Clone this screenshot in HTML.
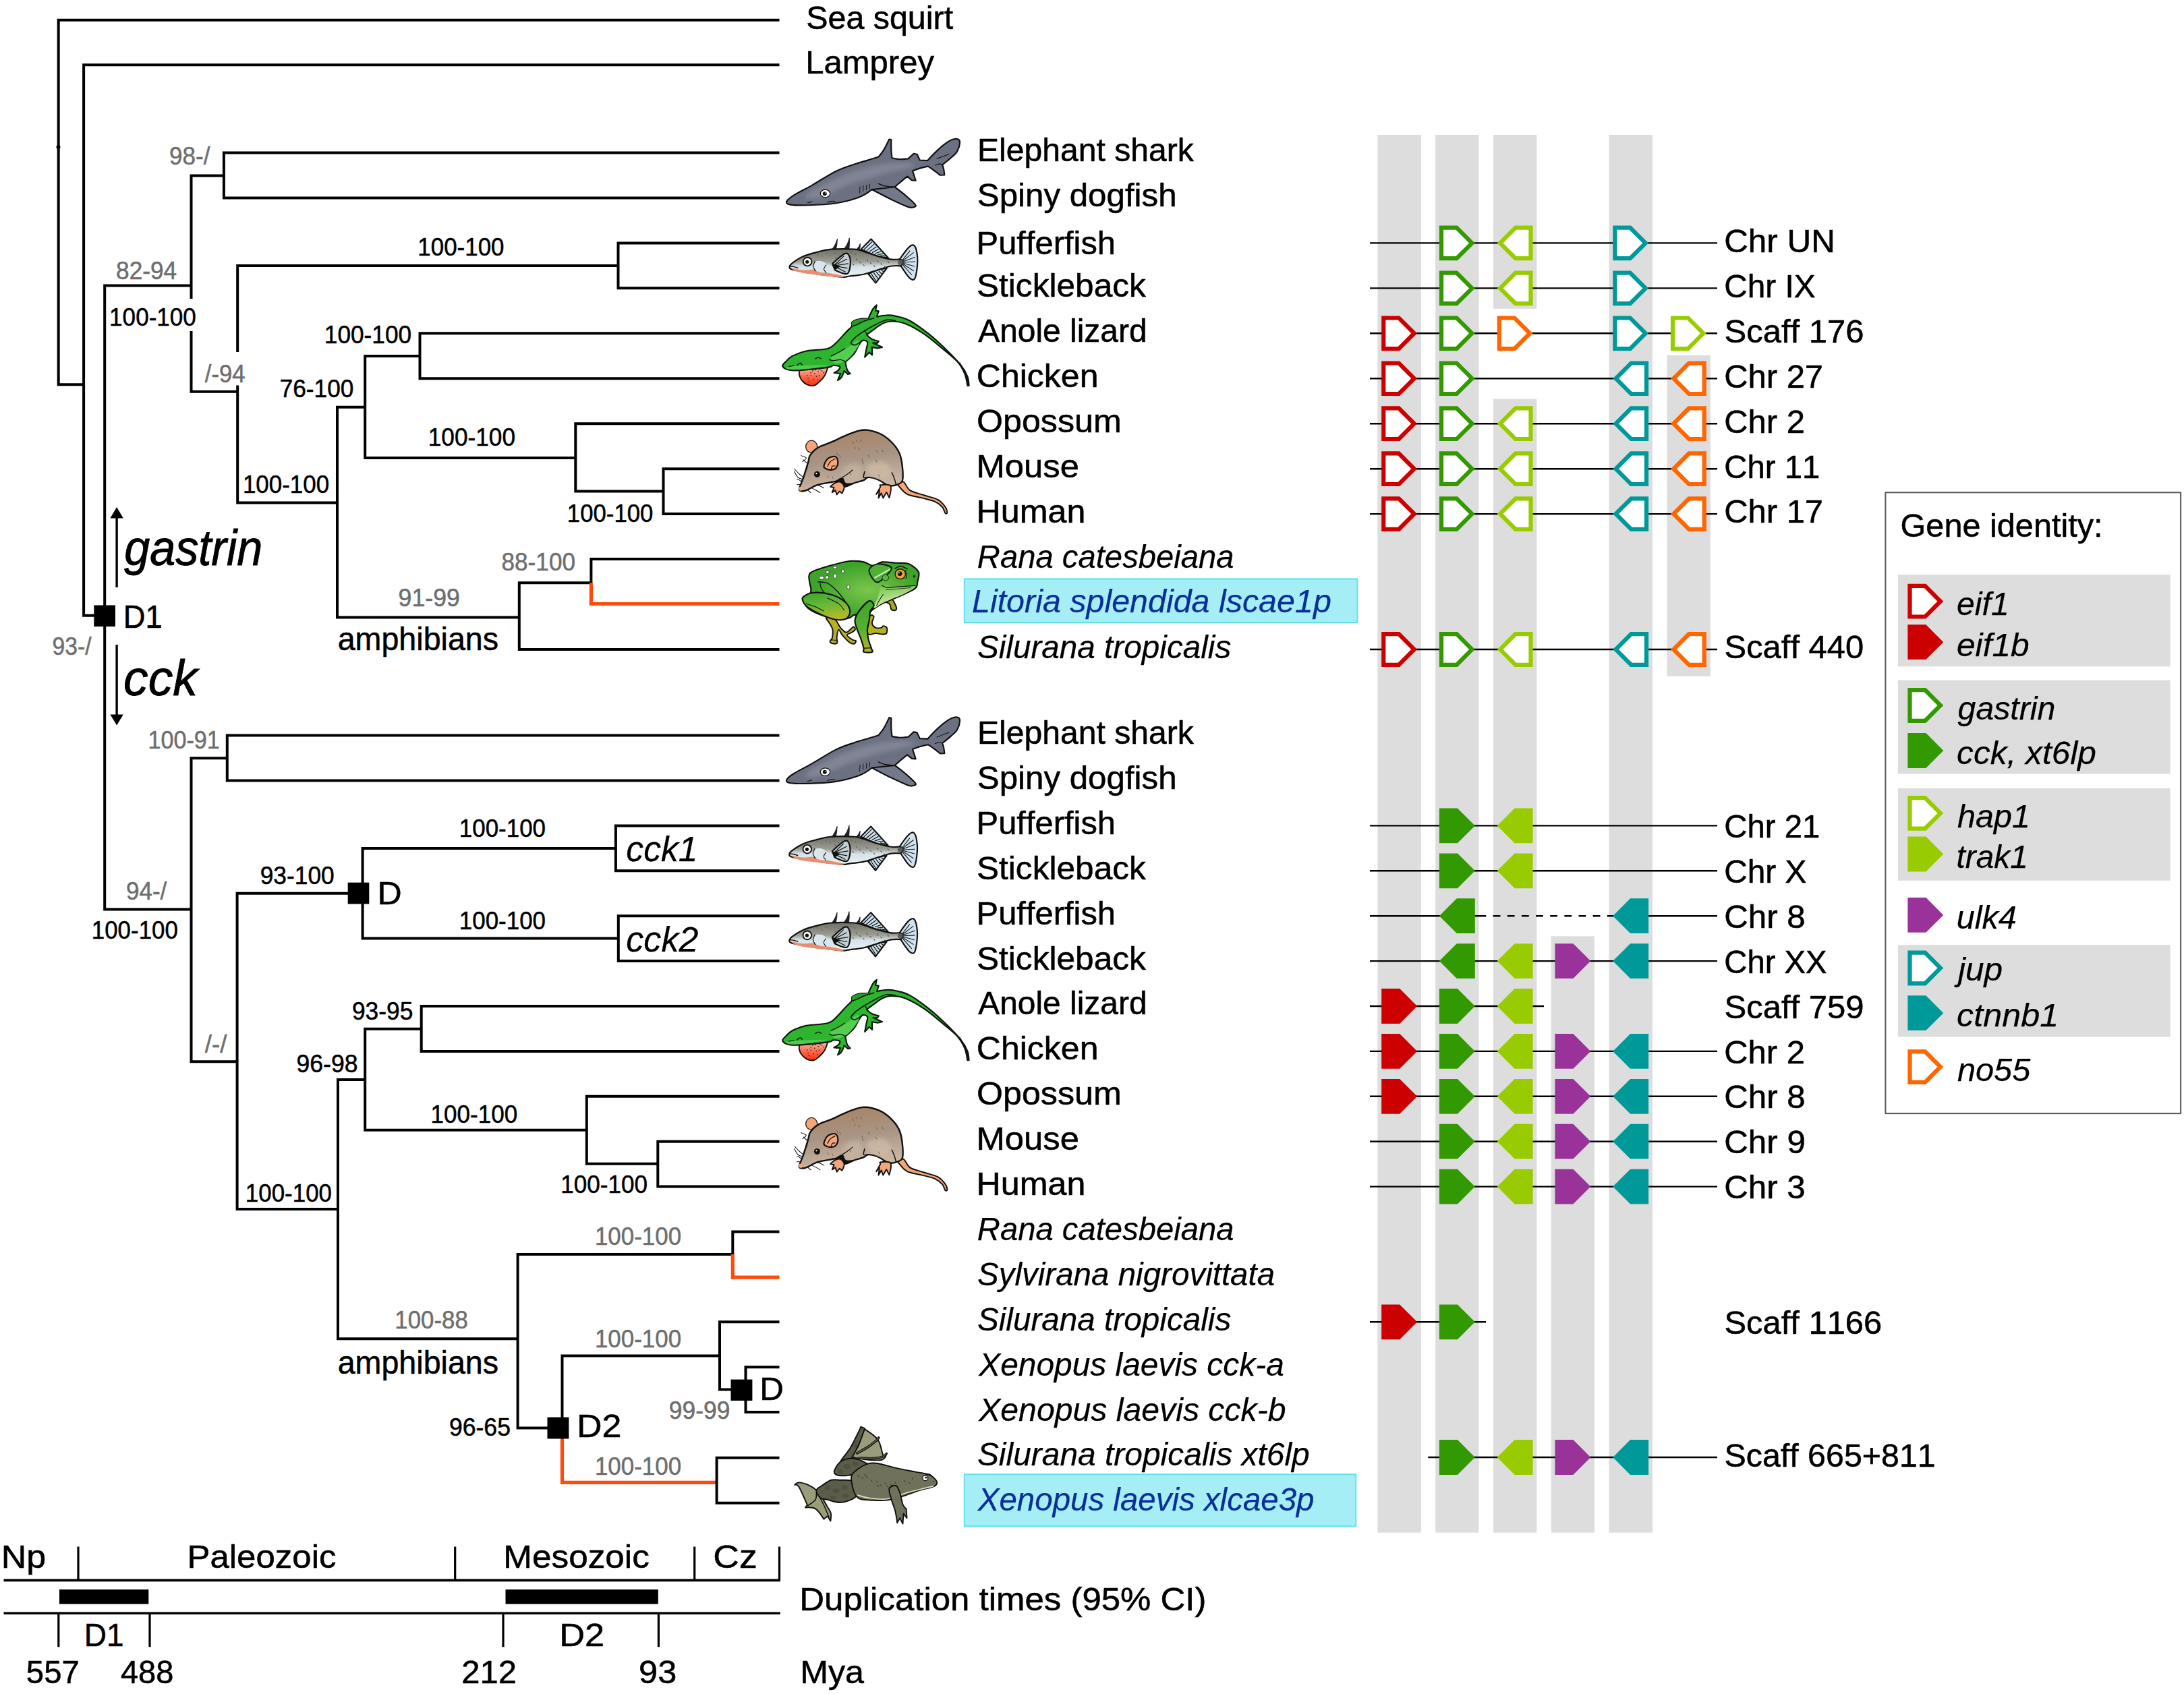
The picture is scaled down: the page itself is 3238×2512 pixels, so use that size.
<!DOCTYPE html>
<html><head><meta charset="utf-8"><title>gastrin / cck phylogeny and synteny</title>
<style>
html,body{margin:0;padding:0;background:#fff}
svg{display:block}
text{font-family:"Liberation Sans",sans-serif;font-kerning:none;white-space:pre;stroke-width:.55px}
.i{stroke-width:.25px}
.ib{stroke-width:.9px}
.t{stroke:#000;stroke-width:4;fill:none;stroke-linecap:butt;stroke-linejoin:miter}
.o{stroke:#ff4a0c;stroke-width:5.2;fill:none;stroke-linejoin:miter}
.g{stroke:#000;stroke-width:2.4;fill:none}
</style></head><body>
<svg width="3238" height="2512" viewBox="0 0 3238 2512">
<rect width="3238" height="2512" fill="#fff"/>
<g id="tree">
<path class="t" d="M1155.5,29.7 H86.7 V570.3 H124.1"/>
<path class="t" d="M1155.5,96.3 H124.1 V912.8 H140"/>
<path class="t" d="M283.5,423.6 H155.2 V1348.4 H283.5"/>
<path class="t" d="M331.9,260.4 H283.5 V580.8 H352.2"/>
<path class="t" d="M1155.5,226.5 H331.9 V293.45 H1155.5"/>
<path class="t" d="M916.5,394 H352.2 V745.6 H500"/>
<path class="t" d="M1155.5,360.4 H916.5 V427.35 H1155.5"/>
<path class="t" d="M541.2,603.8 H500 V915.4 H769.8"/>
<path class="t" d="M622.5,528 H541.2 V679 H853.3"/>
<path class="t" d="M1155.5,494.3 H622.5 V561.25 H1155.5"/>
<path class="t" d="M1155.5,628.2 H853.3 V728.6 H983.5"/>
<path class="t" d="M1155.5,695.15 H983.5 V762.1 H1155.5"/>
<path class="t" d="M876.4,864.3 H769.8 V962.95 H1155.5"/>
<path class="t" d="M1155.5,829.05 H876.4 V866"/>
<path class="o" d="M876.4,864.3 V895.5 H1155.5"/>
<path class="t" d="M336.8,1124.2 H283.5 V1574.2 H351.6"/>
<path class="t" d="M1155.5,1090.6 H336.8 V1157.5 H1155.5"/>
<path class="t" d="M516,1324.7 H351.6 V1792.9 H501"/>
<path class="t" d="M912.9,1257.9 H537.6 V1391.4 H916.8"/>
<path class="t" d="M1155.5,1224.4 H912.9 V1291.3 H1155.5"/>
<path class="t" d="M1155.5,1358.2 H916.8 V1425.1 H1155.5"/>
<path class="t" d="M541.2,1601 H501 V1985.2 H767.6"/>
<path class="t" d="M624.7,1525.8 H541.2 V1675.8 H869.8"/>
<path class="t" d="M1155.5,1492 H624.7 V1558.9 H1155.5"/>
<path class="t" d="M1155.5,1625.8 H869.8 V1725.8 H975.3"/>
<path class="t" d="M1155.5,1692.7 H975.3 V1759.6 H1155.5"/>
<path class="t" d="M1086.3,1859.9 H767.6 V2117.5 H812"/>
<path class="t" d="M1155.5,1826.5 H1086.3 V1861.5"/>
<path class="o" d="M1086.3,1859.9 V1894.2 H1155.5"/>
<path class="t" d="M1067,2010.4 H833.5 V2102"/>
<path class="o" d="M833.5,2133 V2198.4 H1062.6"/>
<path class="t" d="M1155.5,1960.3 H1067 V2060.4 H1084"/>
<path class="t" d="M1155.5,2027.2 H1105.5 V2094.1 H1155.5"/>
<path class="t" d="M1155.5,2161.8 H1062.6 V2228.7 H1155.5"/>
<rect x="139.3" y="897.5" width="31.7" height="31.6"/>
<rect x="515.7" y="1308.7" width="31.6" height="31.8"/>
<rect x="811.5" y="2101.6" width="31.9" height="31.9"/>
<rect x="1083.5" y="2045.6" width="31.9" height="31.4"/>
<circle cx="86.5" cy="218" r="3"/>
<rect x="278" y="443" width="14" height="48" fill="#fff"/>
<rect x="346" y="522" width="14" height="49.5" fill="#fff"/>
<path d="M173.1,871 V766" stroke="#000" stroke-width="3.4" fill="none"/>
<path d="M173.1,751.9 L182.8,768.5 H163.4 Z"/>
<path d="M173.1,956 V1062" stroke="#000" stroke-width="3.4" fill="none"/>
<path d="M173.1,1075.6 L182.8,1059.5 H163.4 Z"/>
</g>
<g id="boot">
<text x="251.1" y="243.7" font-size="37.5" fill="#6e6e6e" stroke="#6e6e6e" textLength="60.4" lengthAdjust="spacingAndGlyphs">98-/</text>
<text x="172.1" y="414.0" font-size="37.5" fill="#6e6e6e" stroke="#6e6e6e" textLength="90.0" lengthAdjust="spacingAndGlyphs">82-94</text>
<text x="162.1" y="482.7" font-size="37.5" stroke="#000" textLength="128.8" lengthAdjust="spacingAndGlyphs">100-100</text>
<text x="619.3" y="378.8" font-size="37.5" stroke="#000" textLength="128.2" lengthAdjust="spacingAndGlyphs">100-100</text>
<text x="303.8" y="566.8" font-size="37.5" fill="#6e6e6e" stroke="#6e6e6e" textLength="59.8" lengthAdjust="spacingAndGlyphs">/-94</text>
<text x="480.8" y="508.5" font-size="37.5" stroke="#000" textLength="129.4" lengthAdjust="spacingAndGlyphs">100-100</text>
<text x="414.7" y="588.8" font-size="37.5" stroke="#000" textLength="109.7" lengthAdjust="spacingAndGlyphs">76-100</text>
<text x="634.7" y="661.2" font-size="37.5" stroke="#000" textLength="129.3" lengthAdjust="spacingAndGlyphs">100-100</text>
<text x="359.9" y="730.5" font-size="37.5" stroke="#000" textLength="128.2" lengthAdjust="spacingAndGlyphs">100-100</text>
<text x="840.8" y="774.4" font-size="37.5" stroke="#000" textLength="127.6" lengthAdjust="spacingAndGlyphs">100-100</text>
<text x="743.5" y="846.4" font-size="37.5" fill="#6e6e6e" stroke="#6e6e6e" textLength="109.5" lengthAdjust="spacingAndGlyphs">88-100</text>
<text x="590.6" y="898.6" font-size="37.5" fill="#6e6e6e" stroke="#6e6e6e" textLength="91.3" lengthAdjust="spacingAndGlyphs">91-99</text>
<text x="77.5" y="971.0" font-size="37.5" fill="#6e6e6e" stroke="#6e6e6e" textLength="58.0" lengthAdjust="spacingAndGlyphs">93-/</text>
<text x="219.4" y="1110.1" font-size="37.5" fill="#6e6e6e" stroke="#6e6e6e" textLength="106.5" lengthAdjust="spacingAndGlyphs">100-91</text>
<text x="186.9" y="1333.8" font-size="37.5" fill="#6e6e6e" stroke="#6e6e6e" textLength="60.4" lengthAdjust="spacingAndGlyphs">94-/</text>
<text x="135.8" y="1392.0" font-size="37.5" stroke="#000" textLength="128.1" lengthAdjust="spacingAndGlyphs">100-100</text>
<text x="385.7" y="1310.7" font-size="37.5" stroke="#000" textLength="110.1" lengthAdjust="spacingAndGlyphs">93-100</text>
<text x="680.8" y="1241.1" font-size="37.5" stroke="#000" textLength="128.2" lengthAdjust="spacingAndGlyphs">100-100</text>
<text x="680.8" y="1378.3" font-size="37.5" stroke="#000" textLength="128.2" lengthAdjust="spacingAndGlyphs">100-100</text>
<text x="303.8" y="1561.2" font-size="37.5" fill="#6e6e6e" stroke="#6e6e6e" textLength="32.5" lengthAdjust="spacingAndGlyphs">/-/</text>
<text x="521.9" y="1512.3" font-size="37.5" stroke="#000" textLength="90.5" lengthAdjust="spacingAndGlyphs">93-95</text>
<text x="439.5" y="1589.8" font-size="37.5" stroke="#000" textLength="91.0" lengthAdjust="spacingAndGlyphs">96-98</text>
<text x="638.5" y="1664.5" font-size="37.5" stroke="#000" textLength="128.8" lengthAdjust="spacingAndGlyphs">100-100</text>
<text x="363.8" y="1781.6" font-size="37.5" stroke="#000" textLength="128.2" lengthAdjust="spacingAndGlyphs">100-100</text>
<text x="831.3" y="1768.8" font-size="37.5" stroke="#000" textLength="128.8" lengthAdjust="spacingAndGlyphs">100-100</text>
<text x="881.9" y="1845.8" font-size="37.5" fill="#6e6e6e" stroke="#6e6e6e" textLength="128.2" lengthAdjust="spacingAndGlyphs">100-100</text>
<text x="585.3" y="1969.5" font-size="37.5" fill="#6e6e6e" stroke="#6e6e6e" textLength="108.5" lengthAdjust="spacingAndGlyphs">100-88</text>
<text x="881.9" y="1998.1" font-size="37.5" fill="#6e6e6e" stroke="#6e6e6e" textLength="128.2" lengthAdjust="spacingAndGlyphs">100-100</text>
<text x="665.9" y="2128.8" font-size="37.5" stroke="#000" textLength="91.1" lengthAdjust="spacingAndGlyphs">96-65</text>
<text x="991.7" y="2104.1" font-size="37.5" fill="#6e6e6e" stroke="#6e6e6e" textLength="90.7" lengthAdjust="spacingAndGlyphs">99-99</text>
<text x="881.9" y="2186.5" font-size="37.5" fill="#6e6e6e" stroke="#6e6e6e" textLength="128.2" lengthAdjust="spacingAndGlyphs">100-100</text>
</g>
<g id="treelabels">
<text x="500.7" y="963.7" font-size="49" stroke="#000" textLength="238.4" lengthAdjust="spacingAndGlyphs">amphibians</text>
<text x="500.7" y="2037.4" font-size="49" stroke="#000" textLength="238.4" lengthAdjust="spacingAndGlyphs">amphibians</text>
<text x="182.8" y="930.9" font-size="49" stroke="#000" textLength="57.9" lengthAdjust="spacingAndGlyphs">D1</text>
<text x="559.6" y="1340.5" font-size="49" stroke="#000" textLength="36.2" lengthAdjust="spacingAndGlyphs">D</text>
<text x="855.0" y="2130.8" font-size="49" stroke="#000" textLength="66.4" lengthAdjust="spacingAndGlyphs">D2</text>
<text x="1126.2" y="2076.0" font-size="49" stroke="#000" textLength="35.7" lengthAdjust="spacingAndGlyphs">D</text>
<text x="184.2" y="838.4" font-size="74" font-style="italic" stroke="#000" class="ib" textLength="205.1" lengthAdjust="spacingAndGlyphs">gastrin</text>
<text x="183.0" y="1031.4" font-size="74" font-style="italic" stroke="#000" class="ib" textLength="109.9" lengthAdjust="spacingAndGlyphs">cck</text>
<text x="928.3" y="1277.4" font-size="51" font-style="italic" stroke="#000" class="i" textLength="106.3" lengthAdjust="spacingAndGlyphs">cck1</text>
<text x="928.3" y="1410.9" font-size="51" font-style="italic" stroke="#000" class="i" textLength="107.1" lengthAdjust="spacingAndGlyphs">cck2</text>
</g>
<g id="species">
<text x="1195.2" y="42.5" font-size="49" stroke="#000" textLength="217.9" lengthAdjust="spacingAndGlyphs">Sea squirt</text>
<text x="1194.3" y="109.3" font-size="49" stroke="#000" textLength="190.6" lengthAdjust="spacingAndGlyphs">Lamprey</text>
<text x="1449.0" y="239.0" font-size="49" stroke="#000" textLength="320.7" lengthAdjust="spacingAndGlyphs">Elephant shark</text>
<text x="1448.8" y="305.9" font-size="49" stroke="#000" textLength="295.8" lengthAdjust="spacingAndGlyphs">Spiny dogfish</text>
<text x="1447.6" y="376.9" font-size="49" stroke="#000" textLength="206.4" lengthAdjust="spacingAndGlyphs">Pufferfish</text>
<text x="1448.0" y="439.9" font-size="49" stroke="#000" textLength="250.8" lengthAdjust="spacingAndGlyphs">Stickleback</text>
<text x="1450.2" y="506.8" font-size="49" stroke="#000" textLength="250.4" lengthAdjust="spacingAndGlyphs">Anole lizard</text>
<text x="1447.8" y="573.8" font-size="49" stroke="#000" textLength="180.7" lengthAdjust="spacingAndGlyphs">Chicken</text>
<text x="1447.9" y="640.7" font-size="49" stroke="#000" textLength="214.9" lengthAdjust="spacingAndGlyphs">Opossum</text>
<text x="1447.4" y="707.7" font-size="49" stroke="#000" textLength="152.5" lengthAdjust="spacingAndGlyphs">Mouse</text>
<text x="1447.5" y="774.6" font-size="49" stroke="#000" textLength="161.8" lengthAdjust="spacingAndGlyphs">Human</text>
<text x="1448.8" y="841.6" font-size="49" font-style="italic" stroke="#000" class="i" textLength="380.8" lengthAdjust="spacingAndGlyphs">Rana catesbeiana</text>
<text x="1448.9" y="975.5" font-size="49" font-style="italic" stroke="#000" class="i" textLength="376.4" lengthAdjust="spacingAndGlyphs">Silurana tropicalis</text>
<text x="1449.0" y="1103.0" font-size="49" stroke="#000" textLength="320.7" lengthAdjust="spacingAndGlyphs">Elephant shark</text>
<text x="1448.8" y="1169.9" font-size="49" stroke="#000" textLength="295.8" lengthAdjust="spacingAndGlyphs">Spiny dogfish</text>
<text x="1447.6" y="1236.8" font-size="49" stroke="#000" textLength="206.4" lengthAdjust="spacingAndGlyphs">Pufferfish</text>
<text x="1448.0" y="1303.7" font-size="49" stroke="#000" textLength="250.8" lengthAdjust="spacingAndGlyphs">Stickleback</text>
<text x="1447.6" y="1370.6" font-size="49" stroke="#000" textLength="206.4" lengthAdjust="spacingAndGlyphs">Pufferfish</text>
<text x="1448.0" y="1437.5" font-size="49" stroke="#000" textLength="250.8" lengthAdjust="spacingAndGlyphs">Stickleback</text>
<text x="1450.2" y="1504.4" font-size="49" stroke="#000" textLength="250.4" lengthAdjust="spacingAndGlyphs">Anole lizard</text>
<text x="1447.8" y="1571.3" font-size="49" stroke="#000" textLength="180.7" lengthAdjust="spacingAndGlyphs">Chicken</text>
<text x="1447.9" y="1638.2" font-size="49" stroke="#000" textLength="214.9" lengthAdjust="spacingAndGlyphs">Opossum</text>
<text x="1447.4" y="1705.1" font-size="49" stroke="#000" textLength="152.5" lengthAdjust="spacingAndGlyphs">Mouse</text>
<text x="1447.5" y="1772.0" font-size="49" stroke="#000" textLength="161.8" lengthAdjust="spacingAndGlyphs">Human</text>
<text x="1448.8" y="1838.9" font-size="49" font-style="italic" stroke="#000" class="i" textLength="380.8" lengthAdjust="spacingAndGlyphs">Rana catesbeiana</text>
<text x="1449.0" y="1905.8" font-size="49" font-style="italic" stroke="#000" class="i" textLength="441.2" lengthAdjust="spacingAndGlyphs">Sylvirana nigrovittata</text>
<text x="1448.9" y="1972.7" font-size="49" font-style="italic" stroke="#000" class="i" textLength="376.4" lengthAdjust="spacingAndGlyphs">Silurana tropicalis</text>
<text x="1451.2" y="2039.6" font-size="49" font-style="italic" stroke="#000" class="i" textLength="452.6" lengthAdjust="spacingAndGlyphs">Xenopus laevis cck-a</text>
<text x="1451.2" y="2106.5" font-size="49" font-style="italic" stroke="#000" class="i" textLength="455.3" lengthAdjust="spacingAndGlyphs">Xenopus laevis cck-b</text>
<text x="1448.9" y="2173.4" font-size="49" font-style="italic" stroke="#000" class="i" textLength="492.8" lengthAdjust="spacingAndGlyphs">Silurana tropicalis xt6lp</text>
<rect x="1429.8" y="858.4" width="582.7" height="64.6" fill="#a6eef6" stroke="#62e3ec" stroke-width="2"/>
<text x="1441.0" y="908.2" font-size="49" font-style="italic" fill="#0a2f96" stroke="#0a2f96" class="i" textLength="532.8" lengthAdjust="spacingAndGlyphs">Litoria splendida lscae1p</text>
<rect x="1429.8" y="2186.2" width="580.4" height="76.9" fill="#a6eef6" stroke="#62e3ec" stroke-width="2"/>
<text x="1449.8" y="2240.3" font-size="49" font-style="italic" fill="#0a2f96" stroke="#0a2f96" class="i" textLength="498.7" lengthAdjust="spacingAndGlyphs">Xenopus laevis xlcae3p</text>
</g>
<g id="timeline">
<path d="M5.5,2343.4 H1156.8 M5.5,2392.3 H1156.8" stroke="#000" stroke-width="3.6" fill="none"/>
<path d="M116,2293.4 V2343.4 M674.7,2293.4 V2343.4 M1029.7,2293.4 V2343.4 M1155.5,2293.4 V2343.4 M86.8,2392.3 V2442.3 M222,2392.3 V2442.3 M746,2392.3 V2442.3 M976.4,2392.3 V2442.3" stroke="#000" stroke-width="3.2" fill="none"/>
<rect x="88.0" y="2357.0" width="132.3" height="21.6"/>
<rect x="749.5" y="2357.0" width="226.3" height="21.6"/>
<text x="1.7" y="2325.2" font-size="49" stroke="#000" textLength="66.4" lengthAdjust="spacingAndGlyphs">Np</text>
<text x="277.4" y="2325.2" font-size="49" stroke="#000" textLength="221.2" lengthAdjust="spacingAndGlyphs">Paleozoic</text>
<text x="746.3" y="2325.2" font-size="49" stroke="#000" textLength="216.6" lengthAdjust="spacingAndGlyphs">Mesozoic</text>
<text x="1057.3" y="2325.2" font-size="49" stroke="#000" textLength="65.4" lengthAdjust="spacingAndGlyphs">Cz</text>
<text x="124.8" y="2441.0" font-size="49" stroke="#000" textLength="58.7" lengthAdjust="spacingAndGlyphs">D1</text>
<text x="829.2" y="2441.0" font-size="49" stroke="#000" textLength="66.9" lengthAdjust="spacingAndGlyphs">D2</text>
<text x="38.8" y="2496.0" font-size="49" stroke="#000" textLength="79.0" lengthAdjust="spacingAndGlyphs">557</text>
<text x="178.9" y="2496.0" font-size="49" stroke="#000" textLength="78.6" lengthAdjust="spacingAndGlyphs">488</text>
<text x="684.3" y="2496.0" font-size="49" stroke="#000" textLength="81.8" lengthAdjust="spacingAndGlyphs">212</text>
<text x="947.1" y="2496.0" font-size="49" stroke="#000" textLength="56.1" lengthAdjust="spacingAndGlyphs">93</text>
<text x="1185.3" y="2388.0" font-size="49" stroke="#000" textLength="603.2" lengthAdjust="spacingAndGlyphs">Duplication times (95% CI)</text>
<text x="1186.2" y="2496.0" font-size="49" stroke="#000" textLength="94.8" lengthAdjust="spacingAndGlyphs">Mya</text>
</g>
<g id="synteny">
<rect x="2042.4" y="200.0" width="64.4" height="2072.6" fill="#dddddd"/>
<rect x="2128.2" y="200.0" width="64.2" height="2072.6" fill="#dddddd"/>
<rect x="2214.0" y="200.0" width="64.3" height="257.8" fill="#dddddd"/>
<rect x="2214.0" y="591.6" width="64.3" height="1681.0" fill="#dddddd"/>
<rect x="2299.7" y="1388.3" width="64.3" height="884.3" fill="#dddddd"/>
<rect x="2385.5" y="200.0" width="64.5" height="2072.6" fill="#dddddd"/>
<rect x="2471.6" y="527.0" width="64.2" height="476.0" fill="#dddddd"/>
<path class="g" d="M2031.0,360.4 H2546.0"/>
<polygon points="2133.9,334.5 2160.9,334.5 2186.8,360.4 2160.9,386.3 2133.9,386.3" fill="#339900"/>
<polygon points="2140.1,340.7 2158.4,340.7 2178.1,360.4 2158.4,380.1 2140.1,380.1" fill="#fff"/>
<polygon points="2272.6,334.5 2245.6,334.5 2219.7,360.4 2245.6,386.3 2272.6,386.3" fill="#99cc00"/>
<polygon points="2266.4,340.7 2248.2,340.7 2228.5,360.4 2248.2,380.1 2266.4,380.1" fill="#fff"/>
<polygon points="2391.2,334.5 2418.2,334.5 2444.1,360.4 2418.2,386.3 2391.2,386.3" fill="#009999"/>
<polygon points="2397.4,340.7 2415.6,340.7 2435.3,360.4 2415.6,380.1 2397.4,380.1" fill="#fff"/>
<text x="2556.2" y="373.7" font-size="49" stroke="#000" textLength="164.6" lengthAdjust="spacingAndGlyphs">Chr UN</text>
<path class="g" d="M2031.0,427.4 H2546.0"/>
<polygon points="2133.9,401.5 2160.9,401.5 2186.8,427.4 2160.9,453.2 2133.9,453.2" fill="#339900"/>
<polygon points="2140.1,407.7 2158.4,407.7 2178.1,427.4 2158.4,447.1 2140.1,447.1" fill="#fff"/>
<polygon points="2272.6,401.5 2245.6,401.5 2219.7,427.4 2245.6,453.2 2272.6,453.2" fill="#99cc00"/>
<polygon points="2266.4,407.7 2248.2,407.7 2228.5,427.4 2248.2,447.1 2266.4,447.1" fill="#fff"/>
<polygon points="2391.2,401.5 2418.2,401.5 2444.1,427.4 2418.2,453.2 2391.2,453.2" fill="#009999"/>
<polygon points="2397.4,407.7 2415.6,407.7 2435.3,427.4 2415.6,447.1 2397.4,447.1" fill="#fff"/>
<text x="2556.3" y="440.7" font-size="49" stroke="#000" textLength="135.2" lengthAdjust="spacingAndGlyphs">Chr IX</text>
<path class="g" d="M2031.0,494.3 H2546.0"/>
<polygon points="2048.2,468.4 2075.2,468.4 2101.1,494.3 2075.2,520.2 2048.2,520.2" fill="#cc0000"/>
<polygon points="2054.4,474.6 2072.6,474.6 2092.3,494.3 2072.6,514.0 2054.4,514.0" fill="#fff"/>
<polygon points="2133.9,468.4 2160.9,468.4 2186.8,494.3 2160.9,520.2 2133.9,520.2" fill="#339900"/>
<polygon points="2140.1,474.6 2158.4,474.6 2178.1,494.3 2158.4,514.0 2140.1,514.0" fill="#fff"/>
<polygon points="2219.7,468.4 2246.7,468.4 2272.6,494.3 2246.7,520.2 2219.7,520.2" fill="#ff6600"/>
<polygon points="2225.9,474.6 2244.1,474.6 2263.8,494.3 2244.1,514.0 2225.9,514.0" fill="#fff"/>
<polygon points="2391.2,468.4 2418.2,468.4 2444.1,494.3 2418.2,520.2 2391.2,520.2" fill="#009999"/>
<polygon points="2397.4,474.6 2415.6,474.6 2435.3,494.3 2415.6,514.0 2397.4,514.0" fill="#fff"/>
<polygon points="2476.9,468.4 2503.9,468.4 2529.8,494.3 2503.9,520.2 2476.9,520.2" fill="#99cc00"/>
<polygon points="2483.1,474.6 2501.4,474.6 2521.1,494.3 2501.4,514.0 2483.1,514.0" fill="#fff"/>
<text x="2556.5" y="507.6" font-size="49" stroke="#000" textLength="207.0" lengthAdjust="spacingAndGlyphs">Scaff 176</text>
<path class="g" d="M2031.0,561.2 H2546.0"/>
<polygon points="2048.2,535.4 2075.2,535.4 2101.1,561.2 2075.2,587.1 2048.2,587.1" fill="#cc0000"/>
<polygon points="2054.4,541.5 2072.6,541.5 2092.3,561.2 2072.6,581.0 2054.4,581.0" fill="#fff"/>
<polygon points="2133.9,535.4 2160.9,535.4 2186.8,561.2 2160.9,587.1 2133.9,587.1" fill="#339900"/>
<polygon points="2140.1,541.5 2158.4,541.5 2178.1,561.2 2158.4,581.0 2140.1,581.0" fill="#fff"/>
<polygon points="2444.1,535.4 2417.1,535.4 2391.2,561.2 2417.1,587.1 2444.1,587.1" fill="#009999"/>
<polygon points="2437.9,541.5 2419.7,541.5 2400.0,561.2 2419.7,581.0 2437.9,581.0" fill="#fff"/>
<polygon points="2529.8,535.4 2502.8,535.4 2476.9,561.2 2502.8,587.1 2529.8,587.1" fill="#ff6600"/>
<polygon points="2523.6,541.5 2505.4,541.5 2485.7,561.2 2505.4,581.0 2523.6,581.0" fill="#fff"/>
<text x="2556.2" y="574.5" font-size="49" stroke="#000" textLength="146.9" lengthAdjust="spacingAndGlyphs">Chr 27</text>
<path class="g" d="M2031.0,628.2 H2546.0"/>
<polygon points="2048.2,602.3 2075.2,602.3 2101.1,628.2 2075.2,654.1 2048.2,654.1" fill="#cc0000"/>
<polygon points="2054.4,608.5 2072.6,608.5 2092.3,628.2 2072.6,647.9 2054.4,647.9" fill="#fff"/>
<polygon points="2133.9,602.3 2160.9,602.3 2186.8,628.2 2160.9,654.1 2133.9,654.1" fill="#339900"/>
<polygon points="2140.1,608.5 2158.4,608.5 2178.1,628.2 2158.4,647.9 2140.1,647.9" fill="#fff"/>
<polygon points="2272.6,602.3 2245.6,602.3 2219.7,628.2 2245.6,654.1 2272.6,654.1" fill="#99cc00"/>
<polygon points="2266.4,608.5 2248.2,608.5 2228.5,628.2 2248.2,647.9 2266.4,647.9" fill="#fff"/>
<polygon points="2444.1,602.3 2417.1,602.3 2391.2,628.2 2417.1,654.1 2444.1,654.1" fill="#009999"/>
<polygon points="2437.9,608.5 2419.7,608.5 2400.0,628.2 2419.7,647.9 2437.9,647.9" fill="#fff"/>
<polygon points="2529.8,602.3 2502.8,602.3 2476.9,628.2 2502.8,654.1 2529.8,654.1" fill="#ff6600"/>
<polygon points="2523.6,608.5 2505.4,608.5 2485.7,628.2 2505.4,647.9 2523.6,647.9" fill="#fff"/>
<text x="2556.2" y="641.5" font-size="49" stroke="#000" textLength="119.7" lengthAdjust="spacingAndGlyphs">Chr 2</text>
<path class="g" d="M2031.0,695.2 H2546.0"/>
<polygon points="2048.2,669.3 2075.2,669.3 2101.1,695.2 2075.2,721.1 2048.2,721.1" fill="#cc0000"/>
<polygon points="2054.4,675.5 2072.6,675.5 2092.3,695.2 2072.6,714.9 2054.4,714.9" fill="#fff"/>
<polygon points="2133.9,669.3 2160.9,669.3 2186.8,695.2 2160.9,721.1 2133.9,721.1" fill="#339900"/>
<polygon points="2140.1,675.5 2158.4,675.5 2178.1,695.2 2158.4,714.9 2140.1,714.9" fill="#fff"/>
<polygon points="2272.6,669.3 2245.6,669.3 2219.7,695.2 2245.6,721.1 2272.6,721.1" fill="#99cc00"/>
<polygon points="2266.4,675.5 2248.2,675.5 2228.5,695.2 2248.2,714.9 2266.4,714.9" fill="#fff"/>
<polygon points="2444.1,669.3 2417.1,669.3 2391.2,695.2 2417.1,721.1 2444.1,721.1" fill="#009999"/>
<polygon points="2437.9,675.5 2419.7,675.5 2400.0,695.2 2419.7,714.9 2437.9,714.9" fill="#fff"/>
<polygon points="2529.8,669.3 2502.8,669.3 2476.9,695.2 2502.8,721.1 2529.8,721.1" fill="#ff6600"/>
<polygon points="2523.6,675.5 2505.4,675.5 2485.7,695.2 2505.4,714.9 2523.6,714.9" fill="#fff"/>
<text x="2556.3" y="708.5" font-size="49" stroke="#000" textLength="142.0" lengthAdjust="spacingAndGlyphs">Chr 11</text>
<path class="g" d="M2031.0,762.1 H2546.0"/>
<polygon points="2048.2,736.2 2075.2,736.2 2101.1,762.1 2075.2,788.0 2048.2,788.0" fill="#cc0000"/>
<polygon points="2054.4,742.4 2072.6,742.4 2092.3,762.1 2072.6,781.8 2054.4,781.8" fill="#fff"/>
<polygon points="2133.9,736.2 2160.9,736.2 2186.8,762.1 2160.9,788.0 2133.9,788.0" fill="#339900"/>
<polygon points="2140.1,742.4 2158.4,742.4 2178.1,762.1 2158.4,781.8 2140.1,781.8" fill="#fff"/>
<polygon points="2272.6,736.2 2245.6,736.2 2219.7,762.1 2245.6,788.0 2272.6,788.0" fill="#99cc00"/>
<polygon points="2266.4,742.4 2248.2,742.4 2228.5,762.1 2248.2,781.8 2266.4,781.8" fill="#fff"/>
<polygon points="2444.1,736.2 2417.1,736.2 2391.2,762.1 2417.1,788.0 2444.1,788.0" fill="#009999"/>
<polygon points="2437.9,742.4 2419.7,742.4 2400.0,762.1 2419.7,781.8 2437.9,781.8" fill="#fff"/>
<polygon points="2529.8,736.2 2502.8,736.2 2476.9,762.1 2502.8,788.0 2529.8,788.0" fill="#ff6600"/>
<polygon points="2523.6,742.4 2505.4,742.4 2485.7,762.1 2505.4,781.8 2523.6,781.8" fill="#fff"/>
<text x="2556.2" y="775.4" font-size="49" stroke="#000" textLength="146.9" lengthAdjust="spacingAndGlyphs">Chr 17</text>
<path class="g" d="M2031.0,963.0 H2546.0"/>
<polygon points="2048.2,937.1 2075.2,937.1 2101.1,963.0 2075.2,988.9 2048.2,988.9" fill="#cc0000"/>
<polygon points="2054.4,943.2 2072.6,943.2 2092.3,963.0 2072.6,982.7 2054.4,982.7" fill="#fff"/>
<polygon points="2133.9,937.1 2160.9,937.1 2186.8,963.0 2160.9,988.9 2133.9,988.9" fill="#339900"/>
<polygon points="2140.1,943.2 2158.4,943.2 2178.1,963.0 2158.4,982.7 2140.1,982.7" fill="#fff"/>
<polygon points="2272.6,937.1 2245.6,937.1 2219.7,963.0 2245.6,988.9 2272.6,988.9" fill="#99cc00"/>
<polygon points="2266.4,943.2 2248.2,943.2 2228.5,963.0 2248.2,982.7 2266.4,982.7" fill="#fff"/>
<polygon points="2444.1,937.1 2417.1,937.1 2391.2,963.0 2417.1,988.9 2444.1,988.9" fill="#009999"/>
<polygon points="2437.9,943.2 2419.7,943.2 2400.0,963.0 2419.7,982.7 2437.9,982.7" fill="#fff"/>
<polygon points="2529.8,937.1 2502.8,937.1 2476.9,963.0 2502.8,988.9 2529.8,988.9" fill="#ff6600"/>
<polygon points="2523.6,943.2 2505.4,943.2 2485.7,963.0 2505.4,982.7 2523.6,982.7" fill="#fff"/>
<text x="2556.5" y="976.2" font-size="49" stroke="#000" textLength="206.7" lengthAdjust="spacingAndGlyphs">Scaff 440</text>
<path class="g" d="M2031.0,1224.4 H2546.0"/>
<polygon points="2133.9,1198.5 2160.9,1198.5 2186.8,1224.4 2160.9,1250.3 2133.9,1250.3" fill="#339900"/>
<polygon points="2272.6,1198.5 2245.6,1198.5 2219.7,1224.4 2245.6,1250.3 2272.6,1250.3" fill="#99cc00"/>
<text x="2556.3" y="1242.0" font-size="49" stroke="#000" textLength="142.0" lengthAdjust="spacingAndGlyphs">Chr 21</text>
<path class="g" d="M2031.0,1291.3 H2546.0"/>
<polygon points="2133.9,1265.4 2160.9,1265.4 2186.8,1291.3 2160.9,1317.2 2133.9,1317.2" fill="#339900"/>
<polygon points="2272.6,1265.4 2245.6,1265.4 2219.7,1291.3 2245.6,1317.2 2272.6,1317.2" fill="#99cc00"/>
<text x="2556.3" y="1308.9" font-size="49" stroke="#000" textLength="122.1" lengthAdjust="spacingAndGlyphs">Chr X</text>
<path class="g" d="M2031.0,1358.2 H2193.0"/>
<path class="g" d="M2192.5,1358.2 H2394.0" stroke-dasharray="10.8,10.34"/>
<path class="g" d="M2440.0,1358.2 H2546.0"/>
<polygon points="2186.8,1332.3 2159.8,1332.3 2133.9,1358.2 2159.8,1384.1 2186.8,1384.1" fill="#339900"/>
<polygon points="2444.1,1332.3 2417.1,1332.3 2391.2,1358.2 2417.1,1384.1 2444.1,1384.1" fill="#009999"/>
<text x="2556.2" y="1375.8" font-size="49" stroke="#000" textLength="120.5" lengthAdjust="spacingAndGlyphs">Chr 8</text>
<path class="g" d="M2031.0,1425.1 H2546.0"/>
<polygon points="2186.8,1399.2 2159.8,1399.2 2133.9,1425.1 2159.8,1451.0 2186.8,1451.0" fill="#339900"/>
<polygon points="2272.6,1399.2 2245.6,1399.2 2219.7,1425.1 2245.6,1451.0 2272.6,1451.0" fill="#99cc00"/>
<polygon points="2305.4,1399.2 2332.4,1399.2 2358.3,1425.1 2332.4,1451.0 2305.4,1451.0" fill="#993399"/>
<polygon points="2444.1,1399.2 2417.1,1399.2 2391.2,1425.1 2417.1,1451.0 2444.1,1451.0" fill="#009999"/>
<text x="2556.3" y="1442.7" font-size="49" stroke="#000" textLength="152.2" lengthAdjust="spacingAndGlyphs">Chr XX</text>
<path class="g" d="M2031.0,1492.0 H2289.0"/>
<polygon points="2048.2,1466.1 2075.2,1466.1 2101.1,1492.0 2075.2,1517.9 2048.2,1517.9" fill="#cc0000"/>
<polygon points="2133.9,1466.1 2160.9,1466.1 2186.8,1492.0 2160.9,1517.9 2133.9,1517.9" fill="#339900"/>
<polygon points="2272.6,1466.1 2245.6,1466.1 2219.7,1492.0 2245.6,1517.9 2272.6,1517.9" fill="#99cc00"/>
<text x="2556.5" y="1509.6" font-size="49" stroke="#000" textLength="207.1" lengthAdjust="spacingAndGlyphs">Scaff 759</text>
<path class="g" d="M2031.0,1558.9 H2546.0"/>
<polygon points="2048.2,1533.0 2075.2,1533.0 2101.1,1558.9 2075.2,1584.8 2048.2,1584.8" fill="#cc0000"/>
<polygon points="2133.9,1533.0 2160.9,1533.0 2186.8,1558.9 2160.9,1584.8 2133.9,1584.8" fill="#339900"/>
<polygon points="2272.6,1533.0 2245.6,1533.0 2219.7,1558.9 2245.6,1584.8 2272.6,1584.8" fill="#99cc00"/>
<polygon points="2305.4,1533.0 2332.4,1533.0 2358.3,1558.9 2332.4,1584.8 2305.4,1584.8" fill="#993399"/>
<polygon points="2444.1,1533.0 2417.1,1533.0 2391.2,1558.9 2417.1,1584.8 2444.1,1584.8" fill="#009999"/>
<text x="2556.2" y="1576.5" font-size="49" stroke="#000" textLength="119.7" lengthAdjust="spacingAndGlyphs">Chr 2</text>
<path class="g" d="M2031.0,1625.8 H2546.0"/>
<polygon points="2048.2,1599.9 2075.2,1599.9 2101.1,1625.8 2075.2,1651.7 2048.2,1651.7" fill="#cc0000"/>
<polygon points="2133.9,1599.9 2160.9,1599.9 2186.8,1625.8 2160.9,1651.7 2133.9,1651.7" fill="#339900"/>
<polygon points="2272.6,1599.9 2245.6,1599.9 2219.7,1625.8 2245.6,1651.7 2272.6,1651.7" fill="#99cc00"/>
<polygon points="2305.4,1599.9 2332.4,1599.9 2358.3,1625.8 2332.4,1651.7 2305.4,1651.7" fill="#993399"/>
<polygon points="2444.1,1599.9 2417.1,1599.9 2391.2,1625.8 2417.1,1651.7 2444.1,1651.7" fill="#009999"/>
<text x="2556.2" y="1643.4" font-size="49" stroke="#000" textLength="120.5" lengthAdjust="spacingAndGlyphs">Chr 8</text>
<path class="g" d="M2031.0,1692.7 H2546.0"/>
<polygon points="2133.9,1666.8 2160.9,1666.8 2186.8,1692.7 2160.9,1718.6 2133.9,1718.6" fill="#339900"/>
<polygon points="2272.6,1666.8 2245.6,1666.8 2219.7,1692.7 2245.6,1718.6 2272.6,1718.6" fill="#99cc00"/>
<polygon points="2305.4,1666.8 2332.4,1666.8 2358.3,1692.7 2332.4,1718.6 2305.4,1718.6" fill="#993399"/>
<polygon points="2444.1,1666.8 2417.1,1666.8 2391.2,1692.7 2417.1,1718.6 2444.1,1718.6" fill="#009999"/>
<text x="2556.2" y="1710.3" font-size="49" stroke="#000" textLength="120.7" lengthAdjust="spacingAndGlyphs">Chr 9</text>
<path class="g" d="M2031.0,1759.6 H2546.0"/>
<polygon points="2133.9,1733.7 2160.9,1733.7 2186.8,1759.6 2160.9,1785.5 2133.9,1785.5" fill="#339900"/>
<polygon points="2272.6,1733.7 2245.6,1733.7 2219.7,1759.6 2245.6,1785.5 2272.6,1785.5" fill="#99cc00"/>
<polygon points="2305.4,1733.7 2332.4,1733.7 2358.3,1759.6 2332.4,1785.5 2305.4,1785.5" fill="#993399"/>
<polygon points="2444.1,1733.7 2417.1,1733.7 2391.2,1759.6 2417.1,1785.5 2444.1,1785.5" fill="#009999"/>
<text x="2556.2" y="1777.2" font-size="49" stroke="#000" textLength="120.6" lengthAdjust="spacingAndGlyphs">Chr 3</text>
<path class="g" d="M2031.0,1960.3 H2203.0"/>
<polygon points="2048.2,1934.4 2075.2,1934.4 2101.1,1960.3 2075.2,1986.2 2048.2,1986.2" fill="#cc0000"/>
<polygon points="2133.9,1934.4 2160.9,1934.4 2186.8,1960.3 2160.9,1986.2 2133.9,1986.2" fill="#339900"/>
<text x="2556.5" y="1977.9" font-size="49" stroke="#000" textLength="233.7" lengthAdjust="spacingAndGlyphs">Scaff 1166</text>
<path class="g" d="M2117.3,2161.0 H2546.0"/>
<polygon points="2133.9,2135.1 2160.9,2135.1 2186.8,2161.0 2160.9,2186.9 2133.9,2186.9" fill="#339900"/>
<polygon points="2272.6,2135.1 2245.6,2135.1 2219.7,2161.0 2245.6,2186.9 2272.6,2186.9" fill="#99cc00"/>
<polygon points="2305.4,2135.1 2332.4,2135.1 2358.3,2161.0 2332.4,2186.9 2305.4,2186.9" fill="#993399"/>
<polygon points="2444.1,2135.1 2417.1,2135.1 2391.2,2161.0 2417.1,2186.9 2444.1,2186.9" fill="#009999"/>
<text x="2556.5" y="2174.6" font-size="49" stroke="#000" textLength="313.2" lengthAdjust="spacingAndGlyphs">Scaff 665+811</text>
</g>
<g id="legend">
<rect x="2795.4" y="730.3" width="437.7" height="920.8" fill="#fff" stroke="#5c5c5c" stroke-width="2.1"/>
<rect x="2813.8" y="852.2" width="403.8" height="136.1" fill="#dddddd"/>
<rect x="2813.8" y="1008.6" width="403.8" height="139.0" fill="#dddddd"/>
<rect x="2813.8" y="1169.0" width="403.8" height="136.7" fill="#dddddd"/>
<rect x="2813.8" y="1401.2" width="403.8" height="136.3" fill="#dddddd"/>
<text x="2817.5" y="796.0" font-size="49" stroke="#000" textLength="300.1" lengthAdjust="spacingAndGlyphs">Gene identity:</text>
<polygon points="2828.4,865.8 2855.4,865.8 2881.3,891.7 2855.4,917.6 2828.4,917.6" fill="#cc0000"/>
<polygon points="2834.6,872.0 2852.8,872.0 2872.5,891.7 2852.8,911.4 2834.6,911.4" fill="#fff"/>
<text x="2901.1" y="912.2" font-size="49" font-style="italic" stroke="#000" class="i" textLength="77.6" lengthAdjust="spacingAndGlyphs">eif1</text>
<polygon points="2828.4,926.3 2855.4,926.3 2881.3,952.2 2855.4,978.1 2828.4,978.1" fill="#cc0000"/>
<text x="2901.0" y="972.5" font-size="49" font-style="italic" stroke="#000" class="i" textLength="107.7" lengthAdjust="spacingAndGlyphs">eif1b</text>
<polygon points="2828.4,1020.1 2855.4,1020.1 2881.3,1046.0 2855.4,1071.9 2828.4,1071.9" fill="#339900"/>
<polygon points="2834.6,1026.3 2852.8,1026.3 2872.5,1046.0 2852.8,1065.7 2834.6,1065.7" fill="#fff"/>
<text x="2902.6" y="1067.0" font-size="49" font-style="italic" stroke="#000" class="i" textLength="144.8" lengthAdjust="spacingAndGlyphs">gastrin</text>
<polygon points="2828.4,1087.1 2855.4,1087.1 2881.3,1113.0 2855.4,1138.9 2828.4,1138.9" fill="#339900"/>
<text x="2901.1" y="1132.7" font-size="49" font-style="italic" stroke="#000" class="i" textLength="206.8" lengthAdjust="spacingAndGlyphs">cck, xt6lp</text>
<polygon points="2828.4,1180.0 2855.4,1180.0 2881.3,1205.9 2855.4,1231.8 2828.4,1231.8" fill="#99cc00"/>
<polygon points="2834.6,1186.2 2852.8,1186.2 2872.5,1205.9 2852.8,1225.6 2834.6,1225.6" fill="#fff"/>
<text x="2901.9" y="1226.8" font-size="49" font-style="italic" stroke="#000" class="i" textLength="108.0" lengthAdjust="spacingAndGlyphs">hap1</text>
<polygon points="2828.4,1240.6 2855.4,1240.6 2881.3,1266.5 2855.4,1292.4 2828.4,1292.4" fill="#99cc00"/>
<text x="2900.5" y="1286.6" font-size="49" font-style="italic" stroke="#000" class="i" textLength="106.3" lengthAdjust="spacingAndGlyphs">trak1</text>
<polygon points="2828.4,1331.0 2855.4,1331.0 2881.3,1356.9 2855.4,1382.8 2828.4,1382.8" fill="#993399"/>
<text x="2900.7" y="1377.2" font-size="49" font-style="italic" stroke="#000" class="i" textLength="89.2" lengthAdjust="spacingAndGlyphs">ulk4</text>
<polygon points="2828.4,1409.6 2855.4,1409.6 2881.3,1435.5 2855.4,1461.4 2828.4,1461.4" fill="#009999"/>
<polygon points="2834.6,1415.8 2852.8,1415.8 2872.5,1435.5 2852.8,1455.2 2834.6,1455.2" fill="#fff"/>
<text x="2903.0" y="1454.0" font-size="49" font-style="italic" stroke="#000" class="i" textLength="66.1" lengthAdjust="spacingAndGlyphs">jup</text>
<polygon points="2828.4,1476.3 2855.4,1476.3 2881.3,1502.2 2855.4,1528.1 2828.4,1528.1" fill="#009999"/>
<text x="2901.1" y="1521.5" font-size="49" font-style="italic" stroke="#000" class="i" textLength="151.1" lengthAdjust="spacingAndGlyphs">ctnnb1</text>
<polygon points="2828.4,1556.2 2855.4,1556.2 2881.3,1582.1 2855.4,1608.0 2828.4,1608.0" fill="#ff6600"/>
<polygon points="2834.6,1562.4 2852.8,1562.4 2872.5,1582.1 2852.8,1601.8 2834.6,1601.8" fill="#fff"/>
<text x="2901.9" y="1602.9" font-size="49" font-style="italic" stroke="#000" class="i" textLength="108.4" lengthAdjust="spacingAndGlyphs">no55</text>
</g>
<defs><linearGradient id="gfish" x1="0" y1="0" x2="0" y2="1"><stop offset="0" stop-color="#6e7065"/><stop offset=".45" stop-color="#9c9e93"/><stop offset=".62" stop-color="#d6e2e8"/><stop offset="1" stop-color="#e9f1f5"/></linearGradient><linearGradient id="gdew" x1="0" y1="0" x2="0" y2="1"><stop offset="0" stop-color="#f7b9ad"/><stop offset=".5" stop-color="#fb6a4d"/><stop offset="1" stop-color="#ff2a05"/></linearGradient><linearGradient id="gmouse" x1="0" y1="0" x2="0.25" y2="1"><stop offset="0" stop-color="#a8805c"/><stop offset=".55" stop-color="#a89484"/><stop offset="1" stop-color="#c9b5a0"/></linearGradient><radialGradient id="gfrog" cx=".55" cy=".5" r=".45"><stop offset="0" stop-color="#7cc64c"/><stop offset="1" stop-color="#3da32a"/></radialGradient><linearGradient id="gthigh" x1="0" y1="0" x2="0.3" y2="1"><stop offset="0" stop-color="#3da32a"/><stop offset=".5" stop-color="#62b838"/><stop offset="1" stop-color="#b0b82a"/></linearGradient><linearGradient id="garm" x1="0" y1="0" x2="0" y2="1"><stop offset="0" stop-color="#3fa52b"/><stop offset=".55" stop-color="#55b032"/><stop offset="1" stop-color="#b7b526"/></linearGradient><linearGradient id="gthroat" x1="0" y1="0" x2="0.3" y2="1"><stop offset="0" stop-color="#6cc048"/><stop offset="1" stop-color="#d9efb0"/></linearGradient><filter id="bl" x="-20%" y="-20%" width="140%" height="140%"><feGaussianBlur stdDeviation="22"/></filter><clipPath id="cs"><path d="M118,792 C125,774 153,752 200,722 C247,692 325,655 400,612 C475,569 575,503 650,466 C725,429 792,410 850,390 C908,370 957,358 1000,345 C1043,332 1110,310 1110,310 C1110,310 1151,262 1170,230 C1189,198 1225,120 1225,120 C1225,120 1247,125 1247,125 C1247,125 1246,217 1248,250 C1250,283 1256,322 1256,322 C1256,322 1311,335 1340,336 C1369,337 1430,330 1430,330 C1430,330 1490,275 1490,275 C1490,275 1526,282 1526,282 C1526,282 1556,346 1556,346 C1556,346 1640,350 1640,350 C1640,350 1690,294 1720,265 C1750,236 1790,199 1820,176 C1850,153 1876,136 1900,126 C1924,116 1950,113 1965,118 C1980,123 1989,134 1988,156 C1987,178 1976,222 1960,250 C1944,278 1917,298 1890,322 C1863,346 1800,396 1800,396 C1800,396 1811,432 1815,450 C1819,468 1822,506 1822,506 C1822,506 1775,508 1775,508 C1775,508 1722,466 1700,450 C1678,434 1645,412 1645,412 C1645,412 1588,424 1560,432 C1532,440 1478,462 1478,462 C1478,462 1512,566 1512,566 C1512,566 1470,563 1470,563 C1470,563 1420,522 1420,522 C1420,522 1372,561 1350,580 C1328,599 1285,636 1285,636 C1285,636 1363,694 1400,726 C1437,758 1491,805 1506,826 C1521,847 1503,848 1490,852 C1477,856 1470,864 1430,850 C1390,836 1315,801 1250,770 C1185,739 1040,662 1040,662 C1040,662 967,721 900,746 C833,771 732,798 640,812 C548,826 430,830 350,832 C270,834 199,834 160,827 C121,820 111,810 118,792Z"/></clipPath><clipPath id="cm"><path d="M255,760 C260,736 284,687 300,640 C316,593 338,520 350,480 C362,440 354,427 372,400 C390,373 422,339 460,316 C498,293 552,281 600,260 C648,239 700,211 750,190 C800,169 858,146 900,136 C942,126 958,123 1000,130 C1042,137 1105,155 1150,180 C1195,205 1238,245 1270,280 C1302,315 1323,345 1340,390 C1357,435 1366,502 1370,550 C1374,598 1378,651 1366,680 C1354,709 1321,713 1300,722 C1279,731 1257,732 1240,732 C1223,732 1223,734 1200,722 C1177,710 1133,676 1100,662 C1067,648 1025,639 1000,640 C975,641 975,660 950,670 C925,680 885,688 850,700 C815,712 765,745 740,742 C715,739 723,688 700,680 C677,672 642,685 600,692 C558,699 495,707 450,722 C405,737 360,769 330,780 C300,791 284,789 272,786 C260,783 250,784 255,760Z"/></clipPath><g id="shark" transform="scale(0.13736)"><path d="M118,792 C125,774 153,752 200,722 C247,692 325,655 400,612 C475,569 575,503 650,466 C725,429 792,410 850,390 C908,370 957,358 1000,345 C1043,332 1110,310 1110,310 C1110,310 1151,262 1170,230 C1189,198 1225,120 1225,120 C1225,120 1247,125 1247,125 C1247,125 1246,217 1248,250 C1250,283 1256,322 1256,322 C1256,322 1311,335 1340,336 C1369,337 1430,330 1430,330 C1430,330 1490,275 1490,275 C1490,275 1526,282 1526,282 C1526,282 1556,346 1556,346 C1556,346 1640,350 1640,350 C1640,350 1690,294 1720,265 C1750,236 1790,199 1820,176 C1850,153 1876,136 1900,126 C1924,116 1950,113 1965,118 C1980,123 1989,134 1988,156 C1987,178 1976,222 1960,250 C1944,278 1917,298 1890,322 C1863,346 1800,396 1800,396 C1800,396 1811,432 1815,450 C1819,468 1822,506 1822,506 C1822,506 1775,508 1775,508 C1775,508 1722,466 1700,450 C1678,434 1645,412 1645,412 C1645,412 1588,424 1560,432 C1532,440 1478,462 1478,462 C1478,462 1512,566 1512,566 C1512,566 1470,563 1470,563 C1470,563 1420,522 1420,522 C1420,522 1372,561 1350,580 C1328,599 1285,636 1285,636 C1285,636 1363,694 1400,726 C1437,758 1491,805 1506,826 C1521,847 1503,848 1490,852 C1477,856 1470,864 1430,850 C1390,836 1315,801 1250,770 C1185,739 1040,662 1040,662 C1040,662 967,721 900,746 C833,771 732,798 640,812 C548,826 430,830 350,832 C270,834 199,834 160,827 C121,820 111,810 118,792Z" fill="#6c7182" stroke="#111" stroke-width="15.75" stroke-linejoin="round"/><g clip-path="url(#cs)"><path d="M330,715 C372,675 572,573 700,520 C828,467 977,420 1100,395 C1223,370 1378,368 1440,372 C1502,376 1518,399 1470,420 C1422,441 1262,468 1150,500 C1038,532 917,567 800,610 C683,653 528,742 450,760 C372,778 288,755 330,715Z" fill="#9499a8" opacity=".5" filter="url(#bl)"/></g><path d="M1040,662 C1040,662 1285,636 1285,636 C1285,636 1363,694 1400,726 C1437,758 1491,805 1506,826 C1521,847 1503,848 1490,852 C1477,856 1470,864 1430,850 C1390,836 1315,801 1250,770 C1185,739 1040,662 1040,662Z" fill="#747989" stroke="#111" stroke-width="14" stroke-linejoin="round"/><path d="M1110,600 C1122,604 1151,619 1180,625 C1209,631 1268,634 1285,636" fill="none" stroke="#111" stroke-width="10.5" stroke-linecap="round"/><ellipse cx="535" cy="706" rx="52" ry="42" fill="#fff" stroke="#111" stroke-width="9"/><circle cx="530" cy="708" r="22" fill="#111"/><circle cx="540" cy="700" r="6" fill="#fff"/><path d="M910,632 L906,700" stroke="#111" stroke-width="7" stroke-linecap="round"/><path d="M946,623 L942,683" stroke="#111" stroke-width="7" stroke-linecap="round"/><path d="M982,614 L978,667" stroke="#111" stroke-width="7" stroke-linecap="round"/><path d="M1016,605 L1012,652" stroke="#111" stroke-width="7" stroke-linecap="round"/><path d="M560,800 C567,798 587,791 600,790 C613,789 633,792 640,792" fill="none" stroke="#111" stroke-width="9" stroke-linecap="round"/><path d="M345,805 C350,804 368,802 375,800 C382,798 388,792 390,790" fill="none" stroke="#111" stroke-width="7.5" stroke-linecap="round"/><path d="M1740,330 C1753,325 1798,308 1820,300 C1842,292 1862,283 1870,280" fill="none" stroke="#111" stroke-width="7.5" stroke-linecap="round"/><path d="M1720,400 C1728,398 1757,386 1770,385 C1783,384 1795,394 1800,396" fill="none" stroke="#111" stroke-width="7.5" stroke-linecap="round"/></g><g id="fish" transform="scale(0.13736)"><path d="M1340,322 C1340,322 1413,216 1440,192 C1467,168 1485,162 1500,180 C1515,198 1526,255 1530,300 C1534,345 1528,410 1522,450 C1516,490 1510,528 1496,540 C1482,552 1464,544 1440,520 C1416,496 1352,396 1352,396 C1352,396 1340,322 1340,322Z" fill="#cfe3ee" stroke="#111" stroke-width="15.75" stroke-linejoin="round"/><path d="M1350,358 L1450,230" stroke="#111" stroke-width="8"/><path d="M1350,358 L1490,250" stroke="#111" stroke-width="8"/><path d="M1350,358 L1505,300" stroke="#111" stroke-width="8"/><path d="M1350,358 L1505,350" stroke="#111" stroke-width="8"/><path d="M1350,358 L1500,400" stroke="#111" stroke-width="8"/><path d="M1350,358 L1490,450" stroke="#111" stroke-width="8"/><path d="M1350,358 L1470,495" stroke="#111" stroke-width="8"/><path d="M920,216 C920,216 1030,105 1030,105 C1030,105 1215,310 1215,310 C1215,310 1149,306 1100,290 C1051,274 920,216 920,216Z" fill="#cfe3ee" stroke="#111" stroke-width="15.75" stroke-linejoin="round"/><path d="M950,222 L1040,135" stroke="#111" stroke-width="9"/><path d="M980,232 L1064,161" stroke="#111" stroke-width="9"/><path d="M1010,242 L1088,187" stroke="#111" stroke-width="9"/><path d="M1040,252 L1112,213" stroke="#111" stroke-width="9"/><path d="M1070,262 L1136,239" stroke="#111" stroke-width="9"/><path d="M1100,272 L1160,265" stroke="#111" stroke-width="9"/><path d="M1130,282 L1184,291" stroke="#111" stroke-width="9"/><path d="M1000,482 C1000,482 1080,580 1080,580 C1080,580 1200,420 1200,420 C1200,420 1133,430 1100,440 C1067,450 1000,482 1000,482Z" fill="#cfe3ee" stroke="#111" stroke-width="15.75" stroke-linejoin="round"/><path d="M1030,478 L1085,560" stroke="#111" stroke-width="9"/><path d="M1058,469 L1105,534" stroke="#111" stroke-width="9"/><path d="M1086,460 L1125,508" stroke="#111" stroke-width="9"/><path d="M1114,451 L1145,482" stroke="#111" stroke-width="9"/><path d="M1142,442 L1165,456" stroke="#111" stroke-width="9"/><path d="M612,214 Q650,160 666,104 Q664,170 652,214 Z M742,208 Q780,160 796,94 Q800,160 792,212 Z M872,218 Q900,190 913,154 Q914,190 904,222 Z" fill="#222" stroke="#111" stroke-width="6" stroke-linejoin="round"/><path d="M150,405 C151,394 151,387 176,368 C201,349 254,312 300,292 C346,272 400,259 450,246 C500,233 533,221 600,216 C667,211 792,212 850,216 C908,220 908,228 950,240 C992,252 1050,276 1100,290 C1150,304 1210,320 1250,325 C1290,330 1340,322 1340,322 C1340,322 1376,334 1378,346 C1380,358 1352,396 1352,396 C1352,396 1292,390 1250,397 C1208,404 1150,425 1100,440 C1050,455 1000,475 950,486 C900,497 838,501 800,506 C762,511 770,518 720,515 C670,512 570,499 500,490 C430,481 355,470 300,460 C245,450 195,441 170,432 C145,423 149,416 150,405Z" fill="url(#gfish)" stroke="#111" stroke-width="15.75" stroke-linejoin="round"/><path d="M175,422 C183,418 259,438 300,440 C341,442 377,431 420,436 C463,441 510,459 560,470 C610,481 699,494 722,502 C745,510 745,520 700,519 C655,518 525,503 450,494 C375,485 296,475 250,463 C204,451 167,426 175,422Z" fill="#ea8d6f"/><path d="M420,350 C435,341 477,340 500,345 C523,350 540,368 560,380 C580,392 613,406 620,420 C627,434 617,457 600,465 C583,473 547,472 520,470 C493,468 458,462 440,450 C422,438 413,417 410,400 C407,383 405,359 420,350Z" fill="#d9e6ee"/><path d="M425,345 C422,354 404,382 405,400 C406,418 426,442 430,450" fill="none" stroke="#111" stroke-width="9" stroke-linecap="round"/><path d="M545,385 C541,392 520,416 520,430 C520,444 541,463 545,470" fill="none" stroke="#111" stroke-width="7.5" stroke-linecap="round"/><path d="M640,300 l14,18" stroke="#55574c" stroke-width="8"/><path d="M678,331 l14,18" stroke="#55574c" stroke-width="8"/><path d="M716,362 l14,18" stroke="#55574c" stroke-width="8"/><path d="M754,309 l14,18" stroke="#55574c" stroke-width="8"/><path d="M792,340 l14,18" stroke="#55574c" stroke-width="8"/><path d="M830,371 l14,18" stroke="#55574c" stroke-width="8"/><path d="M868,318 l14,18" stroke="#55574c" stroke-width="8"/><path d="M906,349 l14,18" stroke="#55574c" stroke-width="8"/><path d="M944,380 l14,18" stroke="#55574c" stroke-width="8"/><path d="M982,327 l14,18" stroke="#55574c" stroke-width="8"/><path d="M1020,358 l14,18" stroke="#55574c" stroke-width="8"/><path d="M1058,389 l14,18" stroke="#55574c" stroke-width="8"/><path d="M1096,336 l14,18" stroke="#55574c" stroke-width="8"/><path d="M1134,367 l14,18" stroke="#55574c" stroke-width="8"/><path d="M1172,398 l14,18" stroke="#55574c" stroke-width="8"/><path d="M1210,345 l14,18" stroke="#55574c" stroke-width="8"/><path d="M450,262 l12,14" stroke="#55574c" stroke-width="7"/><path d="M495,280 l12,14" stroke="#55574c" stroke-width="7"/><path d="M540,258 l12,14" stroke="#55574c" stroke-width="7"/><path d="M585,276 l12,14" stroke="#55574c" stroke-width="7"/><path d="M630,254 l12,14" stroke="#55574c" stroke-width="7"/><path d="M675,272 l12,14" stroke="#55574c" stroke-width="7"/><path d="M720,250 l12,14" stroke="#55574c" stroke-width="7"/><path d="M765,268 l12,14" stroke="#55574c" stroke-width="7"/><path d="M810,246 l12,14" stroke="#55574c" stroke-width="7"/><path d="M855,264 l12,14" stroke="#55574c" stroke-width="7"/><circle cx="1352" cy="358" r="34" fill="#444" opacity=".75"/><path d="M612,372 C612,372 710,281 740,266 C770,251 779,261 790,280 C801,299 809,347 806,380 C803,413 798,470 770,480 C742,490 640,440 640,440 C640,440 612,372 612,372Z" fill="#c3cfd3" stroke="#111" stroke-width="15.75" stroke-linejoin="round"/><path d="M612,372 L700,400 L640,440 Z" fill="#111"/><path d="M625,395 L735,290" stroke="#111" stroke-width="9"/><path d="M625,395 L770,320" stroke="#111" stroke-width="9"/><path d="M625,395 L785,370" stroke="#111" stroke-width="9"/><path d="M625,395 L775,420" stroke="#111" stroke-width="9"/><path d="M625,395 L755,462" stroke="#111" stroke-width="9"/><circle cx="343" cy="350" r="46" fill="#fff" stroke="#111" stroke-width="14"/><circle cx="340" cy="352" r="19" fill="#111"/><path d="M160,400 C167,401 187,402 200,405 C213,408 233,416 240,418" fill="none" stroke="#111" stroke-width="10.5" stroke-linecap="round"/></g><g id="anole" transform="scale(0.13736)"><path d="M258,790 C258,790 349,774 400,770 C451,766 562,764 562,764 C562,764 545,824 530,850 C515,876 490,902 470,920 C450,938 432,955 410,960 C388,965 362,960 340,950 C318,940 294,918 280,900 C266,882 258,858 254,840 C250,822 258,790 258,790Z" fill="url(#gdew)" stroke="#111" stroke-width="14" stroke-linejoin="round"/><circle cx="350" cy="880" r="6" fill="#3a1208"/><circle cx="380" cy="850" r="6" fill="#3a1208"/><circle cx="420" cy="830" r="6" fill="#3a1208"/><circle cx="460" cy="810" r="6" fill="#3a1208"/><circle cx="400" cy="800" r="6" fill="#3a1208"/><circle cx="440" cy="860" r="6" fill="#3a1208"/><circle cx="470" cy="850" r="6" fill="#3a1208"/><circle cx="500" cy="800" r="6" fill="#3a1208"/><circle cx="360" cy="910" r="6" fill="#3a1208"/><circle cx="410" cy="890" r="6" fill="#3a1208"/><circle cx="450" cy="900" r="6" fill="#3a1208"/><circle cx="380" cy="820" r="6" fill="#3a1208"/><circle cx="430" cy="790" r="6" fill="#3a1208"/><circle cx="480" cy="790" r="6" fill="#3a1208"/><circle cx="340" cy="850" r="6" fill="#3a1208"/><circle cx="520" cy="820" r="6" fill="#3a1208"/><path d="M75,750 C68,735 92,718 110,700 C128,682 143,659 180,640 C217,621 267,599 330,586 C393,573 507,574 560,560 C613,546 617,530 650,500 C683,470 732,412 760,382 C788,352 809,340 820,322 C831,304 813,288 826,275 C839,262 871,248 900,242 C929,236 1000,236 1000,236 C1000,236 1035,156 1050,132 C1065,108 1090,90 1090,90 C1090,90 1078,150 1078,150 C1078,150 1112,156 1112,156 C1112,156 1092,216 1092,216 C1092,216 1165,201 1200,200 C1235,199 1258,200 1300,210 C1342,220 1392,228 1450,260 C1508,292 1583,347 1650,400 C1717,453 1792,523 1850,580 C1908,637 1963,693 2000,740 C2037,787 2056,823 2070,860 C2084,897 2086,960 2086,960 C2086,960 2070,960 2070,960 C2070,960 2058,873 2040,830 C2022,787 2000,745 1960,700 C1920,655 1860,610 1800,560 C1740,510 1667,447 1600,402 C1533,357 1458,315 1400,292 C1342,269 1292,266 1250,266 C1208,266 1183,276 1150,292 C1117,308 1078,342 1050,362 C1022,382 982,412 982,412 C982,412 1018,447 1040,458 C1062,469 1112,480 1112,480 C1112,480 1100,500 1100,500 C1100,500 1050,500 1050,500 C1050,500 1150,545 1150,545 C1150,545 1100,556 1100,556 C1100,556 1040,545 1040,545 C1040,545 1042,630 1042,630 C1042,630 1010,600 1010,600 C1010,600 962,652 962,652 C962,652 975,587 980,560 C985,533 997,505 990,490 C983,475 955,467 940,472 C925,477 915,497 900,520 C885,543 870,583 850,610 C830,637 796,665 780,680 C764,695 752,700 752,700 C752,700 763,768 772,790 C781,812 806,830 806,830 C806,830 780,836 780,836 C780,836 740,800 740,800 C740,800 722,853 710,870 C698,887 670,902 670,902 C670,902 700,830 700,830 C700,830 630,822 630,822 C630,822 670,802 680,790 C690,778 700,760 690,752 C680,744 640,740 620,742 C600,744 623,754 570,762 C517,770 370,787 300,792 C230,797 188,799 150,792 C112,785 82,765 75,750Z" fill="#2fb42f" stroke="#0a1a0a" stroke-width="15.75" stroke-linejoin="round"/><path d="M600,640 C620,613 713,588 760,560 C807,532 857,477 880,470 C903,463 907,497 900,520 C893,543 863,582 840,610 C817,638 793,672 760,690 C727,708 667,728 640,720 C613,712 580,667 600,640Z" fill="#5ed45a" opacity=".8"/><path d="M120,760 C145,753 227,748 300,745 C373,742 560,734 560,740 C560,746 368,772 300,780 C232,788 180,788 150,785 C120,782 95,767 120,760Z" fill="#5ed45a" opacity=".7"/><path d="M826,275 C837,262 871,248 900,242 C929,236 973,238 1000,236 C1027,234 1067,228 1060,232 C1053,236 990,251 960,262 C930,273 901,291 880,300 C859,309 841,322 832,318 C823,314 815,288 826,275Z" fill="#249c24"/><path d="M832,318 C840,315 859,309 880,300 C901,291 930,273 960,262 C990,251 1043,237 1060,232" fill="none" stroke="#0a1a0a" stroke-width="12" stroke-linecap="round"/><path d="M822,478 C830,470 847,448 870,430 C893,412 922,391 960,368 C998,345 1060,310 1100,290 C1140,270 1168,255 1200,250 C1232,245 1275,257 1290,258" fill="none" stroke="#0a1a0a" stroke-width="12" stroke-linecap="round"/><path d="M822,478 C821,482 809,498 815,505 C821,512 839,526 860,520 C881,514 927,480 940,472" fill="none" stroke="#0a1a0a" stroke-width="12" stroke-linecap="round"/><path d="M960,368 C965,375 985,403 990,410" fill="none" stroke="#0a1a0a" stroke-width="9" stroke-linecap="round"/><path d="M600,640 C613,633 656,613 680,600 C704,587 734,567 745,560" fill="none" stroke="#0a1a0a" stroke-width="10.5" stroke-linecap="round"/><path d="M580,680 C587,682 600,690 620,690 C640,690 678,678 700,680 C722,682 743,697 752,700" fill="none" stroke="#0a1a0a" stroke-width="10.5" stroke-linecap="round"/><path d="M430,670 C435,668 450,655 460,655 C470,655 485,666 490,668" fill="none" stroke="#0a1a0a" stroke-width="10.5" stroke-linecap="round"/><path d="M230,740 C236,736 256,716 265,715 C274,714 282,732 285,735" fill="none" stroke="#0a1a0a" stroke-width="10.5" stroke-linecap="round"/><path d="M140,755 C150,753 190,747 200,745" fill="none" stroke="#0a1a0a" stroke-width="7.5" stroke-linecap="round"/><path d="M1985,700 L2070,860 L2086,960 L2070,960 L2040,830 L1990,745 Z" fill="#111"/></g><g id="mouse" transform="scale(0.13736)"><path d="M1320,700 C1329,692 1360,677 1382,690 C1404,703 1414,756 1450,780 C1486,804 1550,815 1600,832 C1650,849 1711,859 1750,880 C1789,901 1815,937 1832,960 C1849,983 1852,1009 1852,1020 C1852,1031 1839,1036 1830,1026 C1821,1016 1818,983 1800,962 C1782,941 1757,919 1720,902 C1683,885 1630,875 1580,862 C1530,849 1462,843 1420,822 C1378,801 1347,755 1330,735 C1313,715 1311,708 1320,700Z" fill="#f4a678" stroke="#111" stroke-width="14" stroke-linejoin="round"/><ellipse cx="387" cy="308" rx="62" ry="66" fill="#f4a678" stroke="#111" stroke-width="9"/><path d="M290,470 C297,463 332,441 330,430 C328,419 284,409 275,405" fill="none" stroke="#111" stroke-width="7.5" stroke-linecap="round"/><path d="M300,640 C292,633 266,615 250,600 C234,585 212,558 205,550" fill="none" stroke="#111" stroke-width="7.5" stroke-linecap="round"/><path d="M290,660 C282,657 255,654 240,640 C225,626 207,586 200,575" fill="none" stroke="#111" stroke-width="7.5" stroke-linecap="round"/><path d="M285,690 C279,686 259,670 250,665 C241,660 233,661 230,660" fill="none" stroke="#111" stroke-width="7.5" stroke-linecap="round"/><path d="M270,720 C265,719 247,715 240,715 C233,715 232,719 230,720" fill="none" stroke="#111" stroke-width="7.5" stroke-linecap="round"/><path d="M400,720 C412,722 450,724 470,730 C490,736 512,751 520,755" fill="none" stroke="#111" stroke-width="7.5" stroke-linecap="round"/><path d="M380,750 C388,754 413,766 430,775 C447,784 472,800 480,805" fill="none" stroke="#111" stroke-width="7.5" stroke-linecap="round"/><path d="M340,770 C343,773 353,784 360,790 C367,796 377,802 380,805" fill="none" stroke="#111" stroke-width="7.5" stroke-linecap="round"/><path d="M300,450 C303,453 312,463 320,470 C328,477 341,487 345,490" fill="none" stroke="#111" stroke-width="7.5" stroke-linecap="round"/><path d="M255,760 C260,736 284,687 300,640 C316,593 338,520 350,480 C362,440 354,427 372,400 C390,373 422,339 460,316 C498,293 552,281 600,260 C648,239 700,211 750,190 C800,169 858,146 900,136 C942,126 958,123 1000,130 C1042,137 1105,155 1150,180 C1195,205 1238,245 1270,280 C1302,315 1323,345 1340,390 C1357,435 1366,502 1370,550 C1374,598 1378,651 1366,680 C1354,709 1321,713 1300,722 C1279,731 1257,732 1240,732 C1223,732 1223,734 1200,722 C1177,710 1133,676 1100,662 C1067,648 1025,639 1000,640 C975,641 975,660 950,670 C925,680 885,688 850,700 C815,712 765,745 740,742 C715,739 723,688 700,680 C677,672 642,685 600,692 C558,699 495,707 450,722 C405,737 360,769 330,780 C300,791 284,789 272,786 C260,783 250,784 255,760Z" fill="url(#gmouse)" stroke="#111" stroke-width="17.5" stroke-linejoin="round"/><g clip-path="url(#cm)"><path d="M980,520 C997,492 1105,463 1150,470 C1195,477 1242,530 1250,560 C1258,590 1233,637 1200,650 C1167,663 1087,662 1050,640 C1013,618 963,548 980,520Z" fill="#cdbba6" opacity=".8" filter="url(#bl)"/></g><g clip-path="url(#cm)"><path d="M760,520 C790,497 872,483 900,500 C928,517 947,590 930,620 C913,650 835,677 800,680 C765,683 727,667 720,640 C713,613 730,543 760,520Z" fill="#c7b6a4" opacity=".7" filter="url(#bl)"/></g><path d="M640,690 C643,675 700,638 720,640 C740,642 738,690 760,700 C782,710 850,693 850,700 C850,707 785,735 760,740 C735,745 720,738 700,730 C680,722 637,705 640,690Z" fill="#111"/><path d="M640,700 C658,691 683,683 700,690 C717,697 737,722 740,742 C743,762 716,812 716,812 C716,812 690,790 690,790 C690,790 660,826 660,826 C660,826 645,780 645,780 C645,780 610,802 610,802 C610,802 630,750 630,750 C630,750 590,742 590,742 C590,742 622,709 640,700Z" fill="#f4a678" stroke="#111" stroke-width="14" stroke-linejoin="round"/><path d="M1130,722 C1148,720 1224,709 1240,732 C1256,755 1226,860 1226,860 C1226,860 1196,800 1196,800 C1196,800 1160,862 1160,862 C1160,862 1140,810 1140,810 C1140,810 1110,862 1110,862 C1110,862 1120,780 1120,780 C1120,780 1086,822 1086,822 C1086,822 1123,759 1130,742 C1137,725 1112,724 1130,722Z" fill="#f4a678" stroke="#111" stroke-width="14" stroke-linejoin="round"/><path d="M960,580 C958,590 943,630 950,640 C957,650 992,640 1000,640" fill="none" stroke="#111" stroke-width="12" stroke-linecap="round"/><path d="M720,640 C730,633 762,613 780,600 C798,587 822,567 830,560" fill="none" stroke="#111" stroke-width="9" stroke-linecap="round"/><path d="M1255,590 C1259,600 1272,628 1280,650 C1288,672 1297,710 1300,722" fill="none" stroke="#111" stroke-width="10.5" stroke-linecap="round"/><path d="M520,520 C522,502 540,458 560,440 C580,422 621,410 640,415 C659,420 670,449 672,470 C674,491 662,525 650,540 C638,555 618,559 600,560 C582,561 558,555 545,548 C532,541 518,538 520,520Z" fill="#f4a678" stroke="#111" stroke-width="15.75" stroke-linejoin="round"/><path d="M560,520 C565,512 577,483 590,470 C603,457 632,445 640,440" fill="none" stroke="#111" stroke-width="9" stroke-linecap="round"/><path d="M600,555 C602,549 603,527 610,520 C617,513 635,516 640,515" fill="none" stroke="#111" stroke-width="9" stroke-linecap="round"/><path d="M830,250 l10,22" stroke="#5a4636" stroke-width="5" stroke-linecap="round"/><path d="M870,235 l10,22" stroke="#5a4636" stroke-width="5" stroke-linecap="round"/><path d="M915,235 l10,22" stroke="#5a4636" stroke-width="5" stroke-linecap="round"/><path d="M850,310 l10,22" stroke="#5a4636" stroke-width="5" stroke-linecap="round"/><path d="M895,320 l10,22" stroke="#5a4636" stroke-width="5" stroke-linecap="round"/><path d="M660,380 l10,22" stroke="#5a4636" stroke-width="5" stroke-linecap="round"/><path d="M690,400 l10,22" stroke="#5a4636" stroke-width="5" stroke-linecap="round"/><path d="M930,440 l10,22" stroke="#5a4636" stroke-width="5" stroke-linecap="round"/><path d="M935,470 l10,22" stroke="#5a4636" stroke-width="5" stroke-linecap="round"/><path d="M1090,350 l10,22" stroke="#5a4636" stroke-width="5" stroke-linecap="round"/><path d="M1150,345 l10,22" stroke="#5a4636" stroke-width="5" stroke-linecap="round"/><path d="M1080,450 l10,22" stroke="#5a4636" stroke-width="5" stroke-linecap="round"/><path d="M800,590 l10,22" stroke="#5a4636" stroke-width="5" stroke-linecap="round"/><path d="M1110,610 l10,22" stroke="#5a4636" stroke-width="5" stroke-linecap="round"/><path d="M1250,590 l10,22" stroke="#5a4636" stroke-width="5" stroke-linecap="round"/><path d="M560,620 l10,22" stroke="#5a4636" stroke-width="5" stroke-linecap="round"/><path d="M610,630 l10,22" stroke="#5a4636" stroke-width="5" stroke-linecap="round"/><path d="M1000,400 l10,22" stroke="#5a4636" stroke-width="5" stroke-linecap="round"/><circle cx="447" cy="607" r="33" fill="#111"/><circle cx="440" cy="598" r="8" fill="#fff"/><ellipse cx="270" cy="762" rx="20" ry="22" fill="#f4a678"/><path d="M330,520 L350,480 L340,560 Z" fill="#111"/></g><g id="frog" transform="scale(0.13736)"><path d="M1170,590 C1173,580 1228,558 1250,568 C1272,578 1292,630 1300,650 C1308,670 1304,684 1296,690 C1288,696 1261,695 1250,684 C1239,673 1243,641 1230,625 C1217,609 1167,600 1170,590Z" fill="#a9a525" stroke="#111" stroke-width="14" stroke-linejoin="round"/><path d="M545,770 C555,763 614,772 640,790 C666,808 680,857 700,880 C720,903 743,926 760,930 C777,934 787,915 800,905 C813,895 830,871 840,870 C850,869 861,890 858,900 C855,910 835,920 820,930 C805,940 768,947 770,960 C772,973 814,1000 830,1010 C846,1020 863,1013 866,1020 C869,1027 861,1049 850,1052 C839,1055 822,1055 800,1040 C778,1025 740,983 720,960 C700,937 690,897 680,900 C670,903 663,955 660,980 C657,1005 672,1037 662,1048 C652,1059 612,1050 600,1045 C588,1040 586,1029 588,1020 C590,1011 606,1010 610,990 C614,970 620,927 615,900 C610,873 592,852 580,830 C568,808 535,777 545,770Z" fill="#b5b126" stroke="#111" stroke-width="14" stroke-linejoin="round"/><path d="M1020,750 C1032,733 1057,747 1060,760 C1063,773 1037,810 1040,830 C1043,850 1063,872 1080,880 C1097,888 1127,883 1140,880 C1153,877 1150,860 1160,860 C1170,860 1194,867 1200,880 C1206,893 1204,928 1196,940 C1188,952 1169,950 1150,950 C1131,950 1105,940 1080,940 C1055,940 1015,963 1000,950 C985,937 987,893 990,860 C993,827 1008,767 1020,750Z" fill="#b5b126" stroke="#111" stroke-width="14" stroke-linejoin="round"/><path d="M360,322 C365,301 360,291 400,272 C440,253 533,225 600,206 C667,187 742,166 800,160 C858,154 908,162 950,170 C992,178 1017,210 1050,210 C1083,210 1108,175 1150,170 C1192,165 1255,177 1300,180 C1345,183 1387,178 1420,186 C1453,194 1479,213 1500,230 C1521,247 1541,265 1546,290 C1551,315 1538,353 1532,380 C1526,407 1534,428 1512,450 C1490,472 1444,491 1400,512 C1356,533 1292,558 1250,576 C1208,594 1183,602 1150,620 C1117,638 1075,665 1050,682 C1025,699 1033,712 1000,722 C967,732 883,734 850,742 C817,750 825,764 800,772 C775,780 742,794 700,792 C658,790 600,777 550,762 C500,747 438,726 400,702 C362,678 323,655 320,620 C317,585 372,527 380,490 C388,453 371,428 368,400 C365,372 355,343 360,322Z" fill="url(#gfrog)" stroke="#111" stroke-width="15.75" stroke-linejoin="round"/><path d="M1150,425 C1183,405 1241,439 1300,440 C1359,441 1488,421 1505,432 C1522,443 1442,485 1400,508 C1358,531 1292,554 1250,572 C1208,590 1182,600 1150,616 C1118,632 1068,677 1060,668 C1052,659 1085,600 1100,560 C1115,520 1117,445 1150,425Z" fill="url(#gthroat)"/><path d="M1150,425 C1158,428 1175,442 1200,445 C1225,448 1249,443 1300,440 C1351,437 1471,428 1505,425" fill="none" stroke="#111" stroke-width="9" stroke-linecap="round"/><path d="M1190,470 C1208,469 1255,466 1300,462 C1345,458 1433,450 1460,448" fill="none" stroke="#111" stroke-width="6" stroke-linecap="round"/><path d="M1160,520 C1153,530 1132,560 1120,580 C1108,600 1095,630 1090,640" fill="none" stroke="#111" stroke-width="7.5" stroke-linecap="round"/><path d="M1010,250 C1020,225 1060,195 1100,192 C1140,189 1237,209 1250,232 C1263,255 1205,304 1180,330 C1155,356 1123,388 1100,390 C1077,392 1055,363 1040,340 C1025,317 1000,275 1010,250Z" fill="#4fb035" stroke="#111" stroke-width="14" stroke-linejoin="round"/><path d="M1070,340 L1230,250" stroke="#c8efb0" stroke-width="16" stroke-linecap="round"/><ellipse cx="1185" cy="340" rx="36" ry="32" fill="#5cb83c" stroke="#111" stroke-width="6"/><ellipse cx="1345" cy="300" rx="56" ry="54" fill="#e9a436" stroke="#111" stroke-width="10"/><circle cx="1340" cy="296" r="24" fill="#111"/><circle cx="1332" cy="288" r="7" fill="#fff"/><path d="M1290,240 C1300,236 1328,214 1350,215 C1372,216 1408,240 1420,245" fill="none" stroke="#111" stroke-width="12" stroke-linecap="round"/><path d="M1400,260 C1402,268 1411,295 1412,310 C1413,325 1406,343 1405,350" fill="none" stroke="#111" stroke-width="7.5" stroke-linecap="round"/><ellipse cx="1495" cy="325" rx="10" ry="14" fill="#111"/><ellipse cx="495" cy="340" rx="24" ry="18" fill="#fff" stroke="#111" stroke-width="5"/><ellipse cx="555" cy="336" rx="18" ry="18" fill="#fff" stroke="#111" stroke-width="5"/><ellipse cx="560" cy="280" rx="17" ry="16" fill="#fff" stroke="#111" stroke-width="5"/><ellipse cx="640" cy="230" rx="20" ry="14" fill="#fff" stroke="#111" stroke-width="5"/><ellipse cx="640" cy="322" rx="18" ry="24" fill="#fff" stroke="#111" stroke-width="5"/><ellipse cx="725" cy="270" rx="14" ry="20" fill="#fff" stroke="#111" stroke-width="5"/><ellipse cx="785" cy="440" rx="16" ry="22" fill="#fff" stroke="#111" stroke-width="5"/><path d="M455,385 C472,388 526,384 560,400 C594,416 630,450 660,480 C690,510 718,550 740,580 C762,610 782,647 790,660" fill="none" stroke="#111" stroke-width="10.5" stroke-linecap="round"/><path d="M480,400 C482,408 483,433 490,450 C497,467 515,492 520,500" fill="none" stroke="#111" stroke-width="9" stroke-linecap="round"/><path d="M300,545 C318,530 350,506 400,502 C450,498 542,505 600,522 C658,539 716,572 750,602 C784,632 800,670 802,700 C804,730 787,767 762,782 C737,797 694,799 650,792 C606,785 550,764 500,742 C450,720 384,687 350,662 C316,637 302,612 294,592 C286,572 282,560 300,545Z" fill="url(#gthigh)" stroke="#111" stroke-width="15.75" stroke-linejoin="round"/><path d="M330,620 C345,625 388,637 420,650 C452,663 503,692 520,700" fill="none" stroke="#111" stroke-width="7.5" stroke-linecap="round"/><path d="M560,560 C580,570 650,598 680,620 C710,642 730,678 740,690" fill="none" stroke="#111" stroke-width="7.5" stroke-linecap="round"/><path d="M1010,590 C983,600 926,665 900,700 C874,735 859,767 856,800 C853,833 869,867 880,900 C891,933 908,967 920,1000 C932,1033 945,1076 950,1100 C955,1124 937,1135 952,1142 C967,1149 1029,1149 1042,1142 C1055,1135 1039,1124 1032,1100 C1025,1076 1007,1033 1000,1000 C993,967 988,933 990,900 C992,867 1005,833 1010,800 C1015,767 1014,727 1022,700 C1030,673 1062,658 1060,640 C1058,622 1037,580 1010,590Z" fill="url(#garm)" stroke="#111" stroke-width="15.75" stroke-linejoin="round"/><path d="M955,1100 C968,1099 1022,1097 1035,1096" fill="none" stroke="#111" stroke-width="9" stroke-linecap="round"/><path d="M600,1010 C610,1011 650,1015 660,1016" fill="none" stroke="#111" stroke-width="7.5" stroke-linecap="round"/></g><g id="xeno" transform="scale(0.13736)"><path d="M920,116 C920,116 1060,199 1100,250 C1140,301 1143,395 1160,420 C1177,445 1200,400 1200,400 C1200,400 1183,458 1150,470 C1117,482 1042,474 1000,472 C958,470 928,463 900,456 C872,449 830,456 830,430 C830,404 885,352 900,300 C915,248 920,116 920,116Z" fill="#9b9d7a" stroke="#111" stroke-width="14" stroke-linejoin="round"/><path d="M880,400 C900,388 965,353 1000,330 C1035,307 1071,276 1090,260 C1109,244 1108,237 1112,232" fill="none" stroke="#111" stroke-width="27" stroke-linecap="round"/><path d="M880,400 C900,388 965,353 1000,330 C1035,307 1072,276 1090,260 C1108,244 1105,240 1108,236" fill="none" stroke="#5b5d49" stroke-width="12" stroke-linecap="round"/><path d="M900,450 C925,451 1008,457 1050,455 C1092,453 1126,448 1150,440 C1174,432 1188,410 1196,404" fill="none" stroke="#111" stroke-width="24" stroke-linecap="round"/><path d="M900,450 C925,451 1008,457 1050,455 C1092,453 1127,448 1150,440 C1173,432 1183,413 1190,408" fill="none" stroke="#5b5d49" stroke-width="10.5" stroke-linecap="round"/><path d="M206,742 C206,742 226,716 250,716 C274,716 318,728 350,742 C382,756 415,777 440,800 C465,823 480,850 500,880 C520,910 544,952 560,980 C576,1008 591,1025 596,1050 C601,1075 592,1132 592,1132 C592,1132 560,1080 560,1080 C560,1080 520,1112 520,1112 C520,1112 463,1021 430,1000 C397,979 320,986 320,986 C320,986 342,960 342,960 C342,960 273,798 250,762 C227,726 206,742 206,742Z" fill="#9b9d7a" stroke="#111" stroke-width="14" stroke-linejoin="round"/><path d="M440,810 C438,825 445,874 430,900 C415,926 363,954 350,965" fill="none" stroke="#111" stroke-width="12" stroke-linecap="round"/><path d="M450,830 C462,852 499,917 520,960 C541,1003 566,1068 575,1090" fill="none" stroke="#111" stroke-width="10.5" stroke-linecap="round"/><path d="M830,700 C800,682 738,692 700,690 C662,688 633,680 600,690 C567,700 527,732 500,750 C473,768 443,778 440,800 C437,822 460,863 480,880 C500,897 523,893 560,902 C597,911 652,935 700,932 C748,929 820,904 850,882 C880,860 883,830 880,800 C877,770 860,718 830,700Z" fill="#5b5d49" stroke="#111" stroke-width="14" stroke-linejoin="round"/><path d="M700,492 C700,472 770,401 800,352 C830,303 860,239 880,200 C900,161 920,116 920,116 C920,116 962,132 962,132 C962,132 922,250 900,300 C878,350 849,404 832,432 C815,460 822,460 800,470 C778,480 700,512 700,492Z" fill="#5b5d49" stroke="#111" stroke-width="14" stroke-linejoin="round"/><path d="M636,582 C646,560 673,513 700,492 C727,471 767,460 800,456 C833,452 873,463 900,470 C927,477 945,490 962,500 C979,510 1010,517 1000,530 C990,543 930,563 900,580 C870,597 853,622 820,632 C787,642 730,643 700,642 C670,641 653,634 642,624 C631,614 626,604 636,582Z" fill="#5b5d49" stroke="#111" stroke-width="14" stroke-linejoin="round"/><ellipse cx="770" cy="545" rx="40" ry="28" fill="#45473a" opacity=".55"/><ellipse cx="860" cy="515" rx="34" ry="24" fill="#45473a" opacity=".55"/><ellipse cx="700" cy="600" rx="30" ry="24" fill="#45473a" opacity=".55"/><ellipse cx="560" cy="770" rx="34" ry="26" fill="#45473a" opacity=".55"/><ellipse cx="650" cy="805" rx="38" ry="26" fill="#45473a" opacity=".55"/><ellipse cx="745" cy="770" rx="32" ry="24" fill="#45473a" opacity=".55"/><ellipse cx="750" cy="860" rx="34" ry="22" fill="#45473a" opacity=".55"/><ellipse cx="620" cy="880" rx="30" ry="20" fill="#45473a" opacity=".55"/><ellipse cx="860" cy="300" rx="22" ry="50" fill="#45473a" opacity=".55"/><path d="M820,642 C832,609 870,584 900,562 C930,540 967,521 1000,512 C1033,503 1050,502 1100,510 C1150,518 1233,545 1300,560 C1367,575 1443,589 1500,600 C1557,611 1606,616 1640,626 C1674,636 1685,644 1702,660 C1719,676 1742,703 1742,720 C1742,737 1732,748 1700,762 C1668,776 1608,784 1550,802 C1492,820 1408,855 1350,872 C1292,889 1267,901 1200,906 C1133,911 1005,909 950,902 C895,895 890,885 870,862 C850,839 838,799 830,762 C822,725 808,675 820,642Z" fill="#6f715a" stroke="#111" stroke-width="14" stroke-linejoin="round"/><path d="M885,852 C904,857 948,875 1000,882 C1052,889 1133,902 1200,894 C1267,886 1340,849 1400,832 C1460,815 1510,803 1560,790 C1610,777 1677,762 1700,756" fill="none" stroke="#dfe3bf" stroke-width="12" stroke-linecap="round"/><path d="M885,640 l10,14" stroke="#2c2d22" stroke-width="7" stroke-linecap="round"/><path d="M930,660 l10,14" stroke="#2c2d22" stroke-width="7" stroke-linecap="round"/><path d="M980,650 l10,14" stroke="#2c2d22" stroke-width="7" stroke-linecap="round"/><path d="M1030,690 l10,14" stroke="#2c2d22" stroke-width="7" stroke-linecap="round"/><path d="M1090,700 l10,14" stroke="#2c2d22" stroke-width="7" stroke-linecap="round"/><path d="M1130,740 l10,14" stroke="#2c2d22" stroke-width="7" stroke-linecap="round"/><path d="M1180,720 l10,14" stroke="#2c2d22" stroke-width="7" stroke-linecap="round"/><path d="M1240,735 l10,14" stroke="#2c2d22" stroke-width="7" stroke-linecap="round"/><path d="M1290,715 l10,14" stroke="#2c2d22" stroke-width="7" stroke-linecap="round"/><path d="M1390,695 l10,14" stroke="#2c2d22" stroke-width="7" stroke-linecap="round"/><path d="M1440,715 l10,14" stroke="#2c2d22" stroke-width="7" stroke-linecap="round"/><path d="M1470,665 l10,14" stroke="#2c2d22" stroke-width="7" stroke-linecap="round"/><path d="M960,630 l10,14" stroke="#2c2d22" stroke-width="7" stroke-linecap="round"/><path d="M1100,745 l10,14" stroke="#2c2d22" stroke-width="7" stroke-linecap="round"/><path d="M1200,750 l10,14" stroke="#2c2d22" stroke-width="7" stroke-linecap="round"/><path d="M1226,782 C1234,757 1281,742 1300,750 C1319,758 1330,798 1342,832 C1354,866 1361,924 1372,952 C1383,980 1410,1002 1410,1002 C1410,1002 1416,1100 1416,1100 C1416,1100 1380,1052 1380,1052 C1380,1052 1372,1162 1372,1162 C1372,1162 1340,1100 1340,1100 C1340,1100 1312,1152 1312,1152 C1312,1152 1300,1064 1290,1022 C1280,980 1261,942 1250,902 C1239,862 1218,807 1226,782Z" fill="#6f715a" stroke="#111" stroke-width="14" stroke-linejoin="round"/><circle cx="1615" cy="668" r="29" fill="#fff" stroke="#111" stroke-width="9"/><circle cx="1622" cy="662" r="11" fill="#111"/><path d="M1620,630 q35,-12 60,14" stroke="#111" stroke-width="14" fill="none" stroke-linecap="round"/><circle cx="1700" cy="706" r="5" fill="#111"/></g></defs>
<g id="animals">
<use href="#shark" x="1150" y="190"/>
<use href="#shark" x="1150" y="1047.6"/>
<use href="#fish" x="1150" y="340"/>
<use href="#fish" x="1149.7" y="1211.1"/>
<use href="#fish" x="1149.7" y="1338.8"/>
<use href="#anole" x="1150" y="440"/>
<use href="#anole" x="1150" y="1440.4"/>
<use href="#mouse" x="1150" y="620"/>
<use href="#mouse" x="1150" y="1624.2"/>
<use href="#frog" x="1150" y="810"/>
<use href="#xeno" x="1150" y="2100"/>
</g>
</svg>
</body></html>
